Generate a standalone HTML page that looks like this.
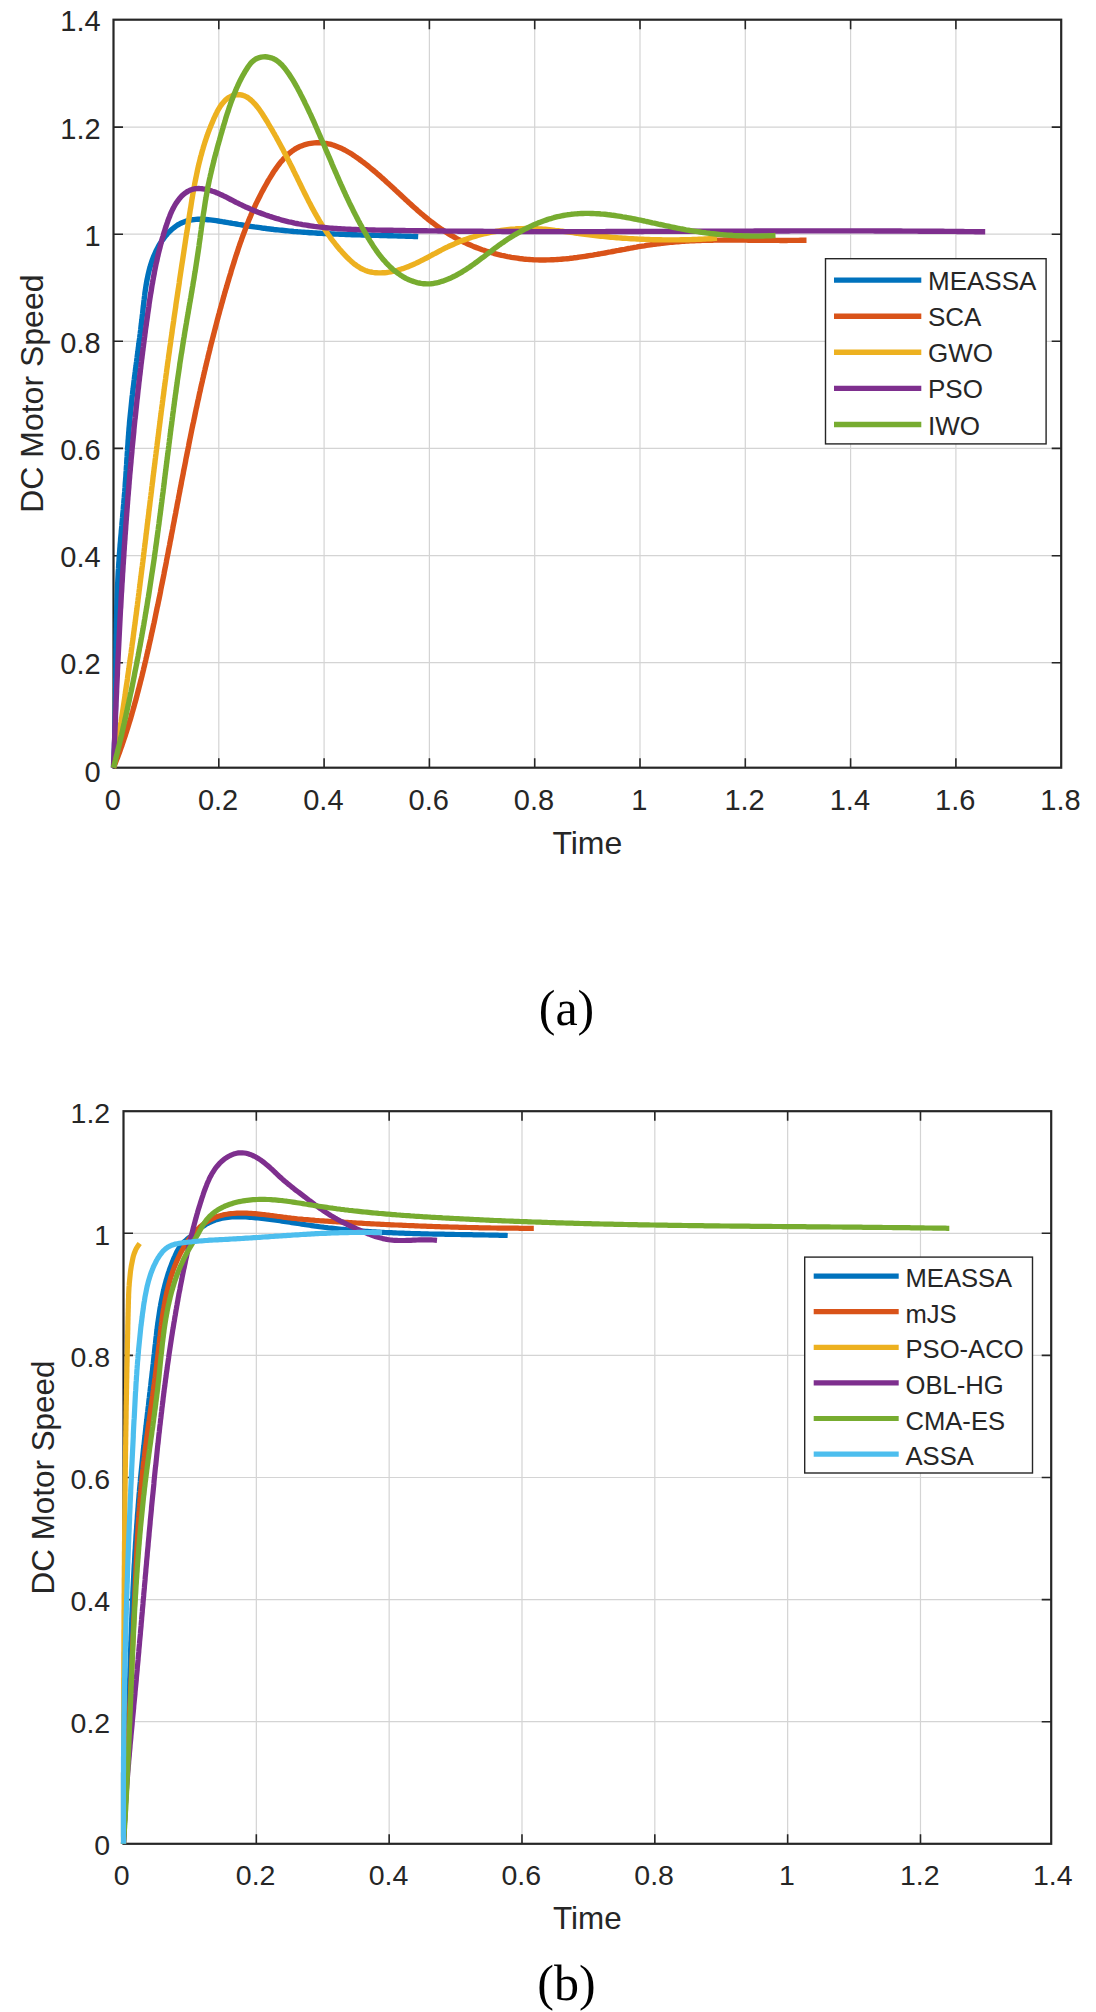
<!DOCTYPE html>
<html><head><meta charset="utf-8"><style>
html,body{margin:0;padding:0;background:#fff;width:1096px;height:2012px;overflow:hidden}
svg{display:block}
text{font-family:"Liberation Sans",sans-serif;fill:#262626}
.cap{font-family:"Liberation Serif",serif;fill:#000;font-size:50px}
</style></head><body>
<svg width="1096" height="2012" viewBox="0 0 1096 2012">
<rect width="1096" height="2012" fill="#fff"/>
<path d="M218.80 19.70V767.70M324.10 19.70V767.70M429.40 19.70V767.70M534.70 19.70V767.70M640.00 19.70V767.70M745.30 19.70V767.70M850.60 19.70V767.70M955.90 19.70V767.70M113.50 662.70H1061.20M113.50 555.70H1061.20M113.50 448.40H1061.20M113.50 341.30H1061.20M113.50 234.20H1061.20M113.50 127.10H1061.20" stroke="#d4d4d4" stroke-width="1.2" fill="none"/>
<path d="M218.80 767.70v-9.5M218.80 19.70v9.5M324.10 767.70v-9.5M324.10 19.70v9.5M429.40 767.70v-9.5M429.40 19.70v9.5M534.70 767.70v-9.5M534.70 19.70v9.5M640.00 767.70v-9.5M640.00 19.70v9.5M745.30 767.70v-9.5M745.30 19.70v9.5M850.60 767.70v-9.5M850.60 19.70v9.5M955.90 767.70v-9.5M955.90 19.70v9.5M113.50 662.70h9.5M1061.20 662.70h-9.5M113.50 555.70h9.5M1061.20 555.70h-9.5M113.50 448.40h9.5M1061.20 448.40h-9.5M113.50 341.30h9.5M1061.20 341.30h-9.5M113.50 234.20h9.5M1061.20 234.20h-9.5M113.50 127.10h9.5M1061.20 127.10h-9.5" stroke="#262626" stroke-width="1.6" fill="none"/>
<rect x="113.50" y="19.70" width="947.70" height="748.00" stroke="#262626" stroke-width="2.2" fill="none"/>
<path d="M113.5 767.7 113.6 765.7 113.7 763.7 113.8 761.7 113.9 759.7 114.0 757.7 114.1 755.7 114.2 753.7 114.2 751.7 114.3 749.7 114.4 747.7 114.5 745.7 114.5 743.7 114.6 741.7 114.7 739.7 114.7 737.7 114.8 735.7 114.8 733.7 114.9 731.7 114.9 729.7 115.0 727.7 115.0 725.7 115.1 723.7 115.1 721.7 115.2 719.7 115.2 717.6 115.3 715.6 115.3 713.6 115.3 711.6 115.4 709.6 115.4 707.6 115.4 705.6 115.5 703.6 115.5 701.6 115.5 699.6 115.5 697.6 115.6 695.6 115.6 693.5 115.6 691.5 115.6 689.5 115.7 687.5 115.7 685.5 115.7 683.5 115.7 681.5 115.7 679.5 115.8 677.5 115.8 675.4 115.8 673.4 115.8 671.4 115.8 669.4 115.9 667.4 115.9 665.4 115.9 663.4 115.9 661.4 115.9 659.4 116.0 657.3 116.0 655.3 116.0 653.3 116.0 651.3 116.0 649.3 116.1 647.3 116.1 645.3 116.1 643.3 116.1 641.3 116.2 639.2 116.2 637.2 116.2 635.2 116.3 633.2 116.3 631.2 116.3 629.2 116.4 627.2 116.4 625.2 116.4 623.2 116.5 621.2 116.5 619.2 116.6 617.1 116.6 615.1 116.7 613.1 116.7 611.1 116.8 609.1 116.8 607.1 116.9 605.1 117.0 603.1 117.0 601.1 117.1 599.1 117.2 597.1 117.2 595.1 117.3 593.1 117.4 591.1 117.5 589.1 117.5 587.1 117.6 585.1 117.7 583.1 117.8 581.1 117.9 579.0 118.0 577.0 118.1 575.0 118.2 573.0 118.3 571.0 118.5 569.0 118.6 567.1 118.7 565.1 118.8 563.1 119.0 561.1 119.1 559.1 119.2 557.1 119.4 555.1 119.5 553.1 119.7 551.1 119.8 549.1 120.0 547.1 120.1 545.1 120.3 543.1 120.5 541.1 120.6 539.1 120.8 537.1 121.0 535.1 121.2 533.1 121.3 531.1 121.5 529.2 121.7 527.2 121.9 525.2 122.0 523.2 122.2 521.2 122.4 519.2 122.6 517.2 122.7 515.2 122.9 513.2 123.1 511.2 123.3 509.2 123.4 507.2 123.6 505.2 123.8 503.2 123.9 501.2 124.1 499.2 124.3 497.2 124.4 495.2 124.6 493.2 124.8 491.2 124.9 489.2 125.1 487.2 125.2 485.1 125.3 483.1 125.5 481.1 125.6 479.1 125.8 477.1 125.9 475.1 126.0 473.1 126.2 471.0 126.3 469.0 126.4 467.0 126.6 465.0 126.7 463.0 126.8 461.0 126.9 458.9 127.1 456.9 127.2 454.9 127.3 452.9 127.5 450.9 127.6 448.9 127.7 446.9 127.9 444.8 128.0 442.8 128.1 440.8 128.3 438.8 128.4 436.8 128.6 434.8 128.7 432.8 128.9 430.8 129.0 428.8 129.2 426.8 129.4 424.8 129.5 422.8 129.7 420.8 129.9 418.8 130.1 416.8 130.3 414.8 130.5 412.9 130.7 410.9 130.9 408.9 131.1 406.9 131.3 404.9 131.5 403.0 131.7 401.0 131.9 399.0 132.1 397.0 132.4 395.1 132.6 393.1 132.8 391.1 133.1 389.2 133.3 387.2 133.6 385.2 133.8 383.2 134.0 381.3 134.3 379.3 134.5 377.3 134.8 375.4 135.0 373.4 135.3 371.4 135.5 369.5 135.8 367.5 136.1 365.5 136.3 363.5 136.6 361.6 136.8 359.6 137.1 357.6 137.3 355.6 137.6 353.7 137.9 351.7 138.1 349.7 138.4 347.7 138.6 345.7 138.9 343.7 139.1 341.8 139.4 339.8 139.7 337.8 139.9 335.8 140.2 333.8 140.4 331.8 140.7 329.8 140.9 327.8 141.1 325.8 141.4 323.7 141.6 321.7 141.9 319.7 142.1 317.7 142.3 315.6 142.6 313.6 142.8 311.6 143.0 309.5 143.2 307.5 143.5 305.5 143.7 303.4 143.9 301.4 144.2 299.3 144.4 297.3 144.7 295.3 144.9 293.2 145.2 291.2 145.5 289.2 145.8 287.2 146.1 285.1 146.5 283.1 146.8 281.1 147.2 279.1 147.6 277.2 148.0 275.2 148.5 273.2 148.9 271.3 149.4 269.3 150.0 267.4 150.5 265.5 151.1 263.6 151.7 261.7 152.4 259.8 153.1 257.9 153.8 256.1 154.6 254.3 155.4 252.5 156.2 250.7 157.1 248.9 158.0 247.2 159.0 245.4 160.0 243.7 161.1 242.1 162.2 240.4 163.4 238.8 164.6 237.2 165.8 235.6 167.2 234.1 168.5 232.6 169.9 231.2 171.4 229.8 172.9 228.5 174.4 227.3 176.0 226.1 177.6 225.0 179.3 224.1 181.0 223.2 182.7 222.4 184.5 221.7 186.3 221.1 188.2 220.6 190.1 220.2 192.0 219.8 194.0 219.6 195.9 219.4 197.9 219.3 199.9 219.3 201.9 219.3 204.0 219.4 206.0 219.5 208.0 219.7 210.1 219.9 212.1 220.1 214.2 220.4 216.2 220.7 218.2 221.0 220.3 221.3 222.3 221.7 224.3 222.0 226.3 222.3 228.3 222.7 230.4 223.0 232.4 223.4 234.4 223.7 236.3 224.0 238.3 224.4 240.3 224.7 242.3 225.0 244.3 225.3 246.3 225.6 248.2 226.0 250.2 226.3 252.2 226.6 254.2 226.9 256.1 227.1 258.1 227.4 260.1 227.7 262.1 228.0 264.0 228.2 266.0 228.5 268.0 228.8 270.0 229.0 271.9 229.2 273.9 229.5 275.9 229.7 277.9 229.9 279.9 230.1 281.9 230.3 283.9 230.5 285.9 230.7 287.9 230.9 289.8 231.1 291.8 231.3 293.8 231.5 295.8 231.6 297.8 231.8 299.8 231.9 301.8 232.1 303.8 232.2 305.8 232.4 307.8 232.5 309.8 232.7 311.8 232.8 313.8 232.9 315.8 233.0 317.9 233.2 319.9 233.3 321.9 233.4 323.9 233.5 325.9 233.6 327.9 233.7 329.9 233.8 331.9 233.9 333.9 234.0 335.9 234.1 337.9 234.1 340.0 234.2 342.0 234.3 344.0 234.4 346.0 234.5 348.0 234.5 350.0 234.6 352.0 234.7 354.0 234.7 356.0 234.8 358.1 234.9 360.1 234.9 362.1 235.0 364.1 235.0 366.1 235.1 368.1 235.2 370.1 235.2 372.1 235.3 374.1 235.3 376.2 235.4 378.2 235.4 380.2 235.5 382.2 235.5 384.2 235.6 386.2 235.6 388.2 235.7 390.2 235.8 392.2 235.8 394.2 235.9 396.2 235.9 398.2 236.0 400.2 236.0 402.2 236.1 404.2 236.1 406.2 236.2 408.2 236.3 410.2 236.3 412.2 236.4 414.2 236.5 416.2 236.5 418.2 236.6" stroke="#0072BD" stroke-width="5.4" fill="none" stroke-linejoin="round" stroke-linecap="butt"/>
<path d="M113.5 767.7 114.2 765.8 115.0 764.0 115.7 762.1 116.4 760.2 117.2 758.4 117.9 756.5 118.6 754.6 119.3 752.7 120.0 750.8 120.6 749.0 121.3 747.1 122.0 745.2 122.6 743.3 123.3 741.4 123.9 739.5 124.5 737.6 125.2 735.7 125.8 733.8 126.4 731.9 127.0 730.0 127.6 728.1 128.2 726.2 128.8 724.2 129.4 722.3 130.0 720.4 130.6 718.5 131.1 716.6 131.7 714.6 132.2 712.7 132.8 710.8 133.3 708.9 133.9 706.9 134.4 705.0 134.9 703.1 135.5 701.1 136.0 699.2 136.5 697.3 137.0 695.3 137.5 693.4 138.0 691.5 138.5 689.5 139.0 687.6 139.5 685.6 140.0 683.7 140.5 681.7 141.0 679.8 141.5 677.9 142.0 675.9 142.4 674.0 142.9 672.0 143.4 670.1 143.8 668.1 144.3 666.2 144.8 664.2 145.2 662.3 145.7 660.3 146.1 658.4 146.6 656.4 147.0 654.4 147.5 652.5 147.9 650.5 148.4 648.6 148.8 646.6 149.2 644.7 149.7 642.7 150.1 640.8 150.6 638.8 151.0 636.8 151.4 634.9 151.8 632.9 152.3 631.0 152.7 629.0 153.1 627.1 153.5 625.1 154.0 623.1 154.4 621.2 154.8 619.2 155.2 617.3 155.6 615.3 156.0 613.3 156.4 611.4 156.8 609.4 157.2 607.4 157.7 605.5 158.1 603.5 158.5 601.5 158.9 599.6 159.3 597.6 159.7 595.7 160.1 593.7 160.5 591.7 160.8 589.8 161.2 587.8 161.6 585.8 162.0 583.9 162.4 581.9 162.8 579.9 163.2 578.0 163.6 576.0 164.0 574.0 164.3 572.1 164.7 570.1 165.1 568.1 165.5 566.2 165.9 564.2 166.3 562.2 166.6 560.2 167.0 558.3 167.4 556.3 167.8 554.3 168.2 552.4 168.5 550.4 168.9 548.4 169.3 546.5 169.7 544.5 170.0 542.5 170.4 540.6 170.8 538.6 171.2 536.6 171.5 534.6 171.9 532.7 172.3 530.7 172.7 528.7 173.0 526.8 173.4 524.8 173.8 522.8 174.2 520.9 174.5 518.9 174.9 516.9 175.3 514.9 175.7 513.0 176.0 511.0 176.4 509.0 176.8 507.1 177.1 505.1 177.5 503.1 177.9 501.1 178.3 499.2 178.6 497.2 179.0 495.2 179.4 493.3 179.8 491.3 180.1 489.3 180.5 487.4 180.9 485.4 181.3 483.4 181.6 481.4 182.0 479.5 182.4 477.5 182.8 475.5 183.2 473.6 183.5 471.6 183.9 469.6 184.3 467.7 184.7 465.7 185.1 463.7 185.5 461.8 185.8 459.8 186.2 457.8 186.6 455.9 187.0 453.9 187.4 451.9 187.8 450.0 188.2 448.0 188.6 446.0 188.9 444.1 189.3 442.1 189.7 440.1 190.1 438.2 190.5 436.2 190.9 434.2 191.3 432.3 191.7 430.3 192.1 428.3 192.5 426.4 192.9 424.4 193.4 422.4 193.8 420.5 194.2 418.5 194.6 416.6 195.0 414.6 195.4 412.6 195.8 410.7 196.2 408.7 196.7 406.8 197.1 404.8 197.5 402.8 197.9 400.9 198.4 398.9 198.8 397.0 199.2 395.0 199.6 393.0 200.1 391.1 200.5 389.1 200.9 387.2 201.4 385.2 201.8 383.3 202.3 381.3 202.7 379.3 203.2 377.4 203.6 375.4 204.1 373.5 204.5 371.5 205.0 369.6 205.4 367.6 205.9 365.7 206.4 363.7 206.8 361.8 207.3 359.8 207.8 357.9 208.2 355.9 208.7 354.0 209.2 352.0 209.7 350.1 210.1 348.1 210.6 346.2 211.1 344.2 211.6 342.3 212.1 340.4 212.6 338.4 213.1 336.5 213.6 334.5 214.1 332.6 214.6 330.6 215.1 328.7 215.6 326.8 216.1 324.8 216.6 322.9 217.1 320.9 217.6 319.0 218.1 317.1 218.6 315.1 219.2 313.2 219.7 311.2 220.2 309.3 220.8 307.4 221.3 305.4 221.8 303.5 222.4 301.6 222.9 299.6 223.4 297.7 224.0 295.8 224.5 293.8 225.1 291.9 225.6 290.0 226.2 288.1 226.8 286.1 227.3 284.2 227.9 282.3 228.5 280.4 229.0 278.4 229.6 276.5 230.2 274.6 230.8 272.7 231.3 270.7 231.9 268.8 232.5 266.9 233.1 265.0 233.7 263.1 234.3 261.1 234.9 259.2 235.5 257.3 236.1 255.4 236.8 253.5 237.4 251.6 238.0 249.7 238.6 247.8 239.3 245.9 239.9 244.0 240.6 242.1 241.3 240.2 241.9 238.4 242.6 236.5 243.3 234.6 244.0 232.7 244.7 230.9 245.4 229.0 246.1 227.2 246.8 225.3 247.5 223.5 248.3 221.6 249.0 219.8 249.8 217.9 250.6 216.1 251.3 214.3 252.1 212.5 252.9 210.6 253.7 208.8 254.6 207.0 255.4 205.2 256.2 203.4 257.1 201.6 258.0 199.8 258.9 198.0 259.8 196.2 260.7 194.4 261.6 192.6 262.5 190.9 263.5 189.1 264.5 187.3 265.5 185.5 266.5 183.7 267.5 181.9 268.5 180.1 269.6 178.4 270.7 176.6 271.8 174.8 272.9 173.0 274.0 171.3 275.2 169.6 276.4 167.9 277.6 166.2 278.9 164.5 280.1 162.9 281.4 161.3 282.8 159.8 284.1 158.3 285.5 156.8 286.9 155.4 288.4 154.1 289.9 152.8 291.4 151.6 293.0 150.5 294.6 149.4 296.2 148.4 297.9 147.5 299.6 146.6 301.4 145.9 303.2 145.2 305.0 144.6 306.9 144.1 308.8 143.7 310.7 143.4 312.6 143.1 314.5 142.9 316.5 142.8 318.4 142.8 320.4 142.8 322.3 142.9 324.2 143.2 326.2 143.4 328.1 143.8 330.0 144.2 331.9 144.7 333.8 145.3 335.6 146.0 337.5 146.7 339.3 147.4 341.1 148.2 342.9 149.1 344.7 150.0 346.5 151.0 348.2 152.0 350.0 153.0 351.7 154.1 353.4 155.2 355.1 156.4 356.8 157.6 358.5 158.7 360.2 160.0 361.8 161.2 363.5 162.4 365.1 163.7 366.7 164.9 368.3 166.2 369.9 167.5 371.5 168.8 373.1 170.1 374.6 171.4 376.2 172.7 377.7 174.1 379.3 175.4 380.8 176.7 382.3 178.1 383.8 179.4 385.3 180.8 386.8 182.2 388.3 183.5 389.8 184.9 391.3 186.3 392.8 187.6 394.3 189.0 395.7 190.4 397.2 191.8 398.7 193.1 400.2 194.5 401.6 195.9 403.1 197.2 404.6 198.6 406.0 200.0 407.5 201.3 409.0 202.7 410.5 204.0 411.9 205.4 413.4 206.7 414.9 208.0 416.4 209.3 417.9 210.7 419.4 212.0 420.9 213.3 422.4 214.5 423.9 215.8 425.5 217.1 427.0 218.3 428.5 219.6 430.1 220.8 431.6 222.0 433.2 223.2 434.8 224.4 436.4 225.6 438.0 226.8 439.6 227.9 441.2 229.0 442.9 230.1 444.5 231.2 446.2 232.3 447.8 233.4 449.5 234.4 451.2 235.4 453.0 236.4 454.7 237.4 456.4 238.4 458.2 239.3 460.0 240.2 461.8 241.1 463.6 242.0 465.4 242.9 467.2 243.7 469.0 244.5 470.9 245.3 472.7 246.1 474.6 246.9 476.5 247.6 478.3 248.3 480.2 249.0 482.1 249.7 484.0 250.3 486.0 251.0 487.9 251.6 489.8 252.2 491.8 252.7 493.7 253.3 495.6 253.8 497.6 254.3 499.6 254.8 501.5 255.3 503.5 255.7 505.5 256.2 507.5 256.6 509.4 256.9 511.4 257.3 513.4 257.6 515.4 257.9 517.4 258.2 519.4 258.5 521.4 258.7 523.4 259.0 525.4 259.2 527.4 259.4 529.4 259.5 531.4 259.6 533.4 259.8 535.4 259.9 537.4 259.9 539.4 260.0 541.4 260.0 543.3 260.0 545.3 260.0 547.3 259.9 549.3 259.9 551.3 259.8 553.3 259.7 555.3 259.6 557.3 259.5 559.3 259.4 561.2 259.2 563.2 259.0 565.2 258.9 567.2 258.7 569.2 258.5 571.2 258.2 573.1 258.0 575.1 257.7 577.1 257.5 579.1 257.2 581.1 256.9 583.0 256.6 585.0 256.3 587.0 256.0 589.0 255.7 591.0 255.4 592.9 255.1 594.9 254.7 596.9 254.4 598.9 254.0 600.8 253.7 602.8 253.3 604.8 253.0 606.8 252.6 608.8 252.2 610.7 251.9 612.7 251.5 614.7 251.1 616.7 250.7 618.6 250.4 620.6 250.0 622.6 249.6 624.6 249.3 626.6 248.9 628.5 248.5 630.5 248.2 632.5 247.8 634.5 247.4 636.5 247.1 638.4 246.7 640.4 246.4 642.4 246.1 644.4 245.8 646.4 245.4 648.4 245.1 650.3 244.8 652.3 244.5 654.3 244.2 656.3 244.0 658.3 243.7 660.3 243.5 662.3 243.2 664.3 243.0 666.3 242.8 668.3 242.6 670.2 242.4 672.2 242.2 674.2 242.0 676.2 241.8 678.2 241.7 680.2 241.5 682.2 241.4 684.2 241.2 686.2 241.1 688.2 241.0 690.2 240.9 692.2 240.8 694.2 240.7 696.2 240.6 698.2 240.5 700.2 240.5 702.2 240.4 704.2 240.3 706.2 240.3 708.2 240.2 710.2 240.2 712.2 240.2 714.2 240.1 716.3 240.1 718.3 240.1 720.3 240.1 722.3 240.1 724.3 240.0 726.3 240.0 728.3 240.0 730.3 240.0 732.3 240.0 734.3 240.1 736.3 240.1 738.3 240.1 740.3 240.1 742.3 240.1 744.3 240.1 746.4 240.1 748.4 240.2 750.4 240.2 752.4 240.2 754.4 240.2 756.4 240.2 758.4 240.3 760.4 240.3 762.4 240.3 764.4 240.3 766.4 240.4 768.4 240.4 770.4 240.4 772.4 240.4 774.5 240.4 776.5 240.4 778.5 240.4 780.5 240.5 782.5 240.5 784.5 240.5 786.5 240.5 788.5 240.4 790.5 240.4 792.5 240.4 794.5 240.4 796.5 240.4 798.5 240.4 800.5 240.3 802.5 240.3 804.5 240.2 806.5 240.2" stroke="#D95319" stroke-width="5.4" fill="none" stroke-linejoin="round" stroke-linecap="butt"/>
<path d="M113.5 767.7 113.8 765.7 114.2 763.7 114.5 761.8 114.8 759.8 115.2 757.8 115.5 755.8 115.8 753.9 116.2 751.9 116.5 749.9 116.8 747.9 117.2 746.0 117.5 744.0 117.8 742.0 118.1 740.0 118.4 738.0 118.8 736.1 119.1 734.1 119.4 732.1 119.7 730.1 120.0 728.2 120.3 726.2 120.6 724.2 121.0 722.2 121.3 720.2 121.6 718.3 121.9 716.3 122.2 714.3 122.5 712.3 122.8 710.3 123.1 708.3 123.4 706.4 123.7 704.4 124.0 702.4 124.3 700.4 124.6 698.4 124.9 696.5 125.2 694.5 125.4 692.5 125.7 690.5 126.0 688.5 126.3 686.5 126.6 684.5 126.9 682.6 127.2 680.6 127.5 678.6 127.7 676.6 128.0 674.6 128.3 672.6 128.6 670.7 128.9 668.7 129.1 666.7 129.4 664.7 129.7 662.7 130.0 660.7 130.2 658.7 130.5 656.8 130.8 654.8 131.1 652.8 131.3 650.8 131.6 648.8 131.9 646.8 132.1 644.8 132.4 642.8 132.7 640.9 133.0 638.9 133.2 636.9 133.5 634.9 133.7 632.9 134.0 630.9 134.3 628.9 134.5 626.9 134.8 625.0 135.1 623.0 135.3 621.0 135.6 619.0 135.8 617.0 136.1 615.0 136.4 613.0 136.6 611.0 136.9 609.0 137.1 607.1 137.4 605.1 137.6 603.1 137.9 601.1 138.1 599.1 138.4 597.1 138.6 595.1 138.9 593.1 139.1 591.1 139.4 589.1 139.6 587.2 139.9 585.2 140.1 583.2 140.4 581.2 140.6 579.2 140.9 577.2 141.1 575.2 141.4 573.2 141.6 571.2 141.9 569.2 142.1 567.3 142.4 565.3 142.6 563.3 142.9 561.3 143.1 559.3 143.4 557.3 143.6 555.3 143.8 553.3 144.1 551.3 144.3 549.3 144.6 547.3 144.8 545.4 145.1 543.4 145.3 541.4 145.6 539.4 145.8 537.4 146.0 535.4 146.3 533.4 146.5 531.4 146.8 529.4 147.0 527.4 147.2 525.4 147.5 523.5 147.7 521.5 148.0 519.5 148.2 517.5 148.5 515.5 148.7 513.5 148.9 511.5 149.2 509.5 149.4 507.5 149.7 505.5 149.9 503.5 150.1 501.6 150.4 499.6 150.6 497.6 150.9 495.6 151.1 493.6 151.4 491.6 151.6 489.6 151.8 487.6 152.1 485.6 152.3 483.6 152.6 481.7 152.8 479.7 153.0 477.7 153.3 475.7 153.5 473.7 153.8 471.7 154.0 469.7 154.3 467.7 154.5 465.7 154.8 463.7 155.0 461.8 155.2 459.8 155.5 457.8 155.7 455.8 156.0 453.8 156.2 451.8 156.5 449.8 156.7 447.8 157.0 445.8 157.2 443.9 157.5 441.9 157.7 439.9 158.0 437.9 158.2 435.9 158.5 433.9 158.7 431.9 159.0 429.9 159.2 427.9 159.5 426.0 159.7 424.0 160.0 422.0 160.2 420.0 160.5 418.0 160.7 416.0 161.0 414.0 161.2 412.0 161.5 410.1 161.7 408.1 162.0 406.1 162.3 404.1 162.5 402.1 162.8 400.1 163.0 398.1 163.3 396.2 163.6 394.2 163.8 392.2 164.1 390.2 164.3 388.2 164.6 386.2 164.9 384.2 165.1 382.3 165.4 380.3 165.7 378.3 165.9 376.3 166.2 374.3 166.5 372.3 166.7 370.3 167.0 368.4 167.3 366.4 167.5 364.4 167.8 362.4 168.1 360.4 168.4 358.4 168.6 356.5 168.9 354.5 169.2 352.5 169.5 350.5 169.7 348.5 170.0 346.5 170.3 344.6 170.6 342.6 170.8 340.6 171.1 338.6 171.4 336.6 171.7 334.6 172.0 332.7 172.2 330.7 172.5 328.7 172.8 326.7 173.1 324.7 173.4 322.7 173.7 320.8 173.9 318.8 174.2 316.8 174.5 314.8 174.8 312.8 175.1 310.9 175.4 308.9 175.7 306.9 175.9 304.9 176.2 302.9 176.5 300.9 176.8 299.0 177.1 297.0 177.4 295.0 177.7 293.0 178.0 291.0 178.3 289.0 178.6 287.1 178.9 285.1 179.2 283.1 179.4 281.1 179.7 279.1 180.0 277.1 180.3 275.1 180.6 273.2 180.9 271.2 181.2 269.2 181.5 267.2 181.8 265.2 182.1 263.2 182.4 261.3 182.7 259.3 183.0 257.3 183.3 255.3 183.6 253.3 183.9 251.3 184.2 249.3 184.5 247.3 184.8 245.4 185.1 243.4 185.4 241.4 185.7 239.4 186.0 237.4 186.3 235.4 186.6 233.4 187.0 231.4 187.3 229.5 187.6 227.5 187.9 225.5 188.2 223.5 188.5 221.5 188.8 219.5 189.1 217.5 189.4 215.5 189.7 213.5 190.0 211.6 190.3 209.6 190.7 207.6 191.0 205.6 191.3 203.6 191.6 201.6 191.9 199.6 192.3 197.6 192.6 195.7 192.9 193.7 193.3 191.7 193.6 189.7 194.0 187.7 194.4 185.8 194.7 183.8 195.1 181.8 195.5 179.9 195.9 177.9 196.3 176.0 196.7 174.0 197.1 172.1 197.5 170.1 197.9 168.2 198.4 166.2 198.8 164.3 199.3 162.4 199.8 160.4 200.3 158.5 200.7 156.6 201.3 154.7 201.8 152.8 202.3 150.9 202.9 149.0 203.4 147.1 204.0 145.2 204.6 143.3 205.2 141.4 205.8 139.6 206.4 137.7 207.1 135.8 207.7 134.0 208.4 132.1 209.1 130.2 209.9 128.3 210.6 126.4 211.4 124.5 212.2 122.6 213.0 120.7 213.8 118.7 214.7 116.8 215.6 114.8 216.6 112.9 217.5 111.0 218.6 109.1 219.7 107.3 220.8 105.6 222.0 103.9 223.3 102.4 224.6 100.9 226.0 99.6 227.5 98.4 229.1 97.4 230.7 96.5 232.4 95.7 234.2 95.2 236.0 94.8 237.8 94.7 239.6 94.7 241.4 95.0 243.1 95.4 244.9 96.1 246.6 96.9 248.2 97.9 249.8 99.1 251.3 100.4 252.8 101.8 254.3 103.3 255.7 104.8 257.0 106.5 258.3 108.1 259.5 109.8 260.7 111.5 261.9 113.3 263.0 115.0 264.1 116.8 265.2 118.5 266.3 120.3 267.4 122.0 268.4 123.8 269.4 125.5 270.5 127.3 271.5 129.0 272.5 130.7 273.5 132.5 274.5 134.2 275.5 136.0 276.5 137.7 277.4 139.4 278.4 141.2 279.3 142.9 280.3 144.7 281.2 146.4 282.1 148.2 283.1 149.9 284.0 151.7 284.9 153.4 285.8 155.2 286.7 156.9 287.6 158.7 288.5 160.4 289.4 162.2 290.3 164.0 291.2 165.7 292.1 167.5 293.0 169.3 293.8 171.1 294.7 172.9 295.6 174.7 296.5 176.4 297.3 178.2 298.2 180.1 299.1 181.9 300.0 183.7 300.9 185.5 301.7 187.3 302.6 189.1 303.5 190.9 304.4 192.7 305.3 194.5 306.2 196.3 307.1 198.1 308.0 199.9 308.9 201.7 309.9 203.5 310.8 205.3 311.7 207.1 312.7 208.9 313.6 210.6 314.6 212.4 315.6 214.1 316.6 215.9 317.6 217.6 318.6 219.4 319.6 221.1 320.6 222.8 321.7 224.5 322.7 226.2 323.8 227.9 324.9 229.6 326.0 231.2 327.1 232.9 328.2 234.5 329.4 236.1 330.5 237.8 331.7 239.4 332.9 241.0 334.2 242.5 335.4 244.1 336.7 245.7 337.9 247.2 339.2 248.8 340.6 250.3 341.9 251.8 343.3 253.3 344.7 254.8 346.1 256.3 347.5 257.8 349.0 259.2 350.5 260.6 352.0 262.0 353.5 263.3 355.1 264.5 356.7 265.7 358.4 266.8 360.0 267.8 361.7 268.8 363.5 269.6 365.3 270.4 367.1 271.1 369.0 271.6 370.8 272.0 372.8 272.4 374.7 272.7 376.7 272.8 378.7 272.9 380.7 272.9 382.7 272.8 384.7 272.7 386.7 272.5 388.7 272.2 390.8 271.8 392.8 271.4 394.8 271.0 396.8 270.5 398.8 269.9 400.7 269.3 402.7 268.7 404.6 268.0 406.5 267.3 408.4 266.6 410.2 265.8 412.1 265.0 413.9 264.2 415.7 263.4 417.6 262.5 419.4 261.6 421.2 260.7 422.9 259.8 424.7 258.9 426.5 258.0 428.2 257.1 430.0 256.1 431.8 255.2 433.5 254.2 435.3 253.3 437.1 252.3 438.8 251.4 440.6 250.5 442.4 249.5 444.1 248.6 445.9 247.7 447.7 246.9 449.5 246.0 451.3 245.2 453.2 244.4 455.0 243.6 456.8 242.8 458.7 242.0 460.6 241.3 462.4 240.6 464.3 239.9 466.2 239.2 468.1 238.5 470.0 237.9 471.9 237.3 473.8 236.7 475.7 236.1 477.7 235.5 479.6 235.0 481.5 234.5 483.5 234.0 485.4 233.5 487.4 233.1 489.4 232.6 491.3 232.2 493.3 231.8 495.3 231.5 497.2 231.1 499.2 230.8 501.2 230.5 503.2 230.2 505.2 229.9 507.2 229.7 509.2 229.5 511.2 229.3 513.2 229.1 515.2 229.0 517.2 228.8 519.2 228.7 521.2 228.6 523.2 228.6 525.2 228.5 527.2 228.5 529.2 228.5 531.2 228.6 533.2 228.6 535.2 228.7 537.2 228.8 539.2 228.9 541.2 229.0 543.2 229.2 545.2 229.3 547.2 229.5 549.2 229.7 551.2 229.9 553.1 230.1 555.1 230.4 557.1 230.6 559.1 230.8 561.1 231.1 563.1 231.3 565.1 231.6 567.1 231.9 569.1 232.1 571.1 232.4 573.1 232.7 575.1 233.0 577.0 233.2 579.0 233.5 581.0 233.8 583.0 234.1 585.0 234.3 587.0 234.6 589.0 234.8 591.0 235.1 593.0 235.3 595.0 235.5 597.0 235.8 598.9 236.0 600.9 236.2 602.9 236.4 604.9 236.6 606.9 236.8 608.9 237.0 610.9 237.2 612.9 237.4 614.9 237.5 616.9 237.7 618.9 237.9 620.9 238.0 622.9 238.2 624.9 238.3 626.9 238.4 628.9 238.6 630.9 238.7 632.9 238.8 634.9 238.9 636.9 239.0 638.9 239.1 640.9 239.2 642.9 239.3 644.9 239.4 646.9 239.5 648.9 239.5 650.9 239.6 652.9 239.7 654.9 239.7 656.9 239.8 658.9 239.8 660.9 239.8 662.9 239.9 664.9 239.9 666.9 239.9 668.9 239.9 670.9 239.9 672.9 239.9 674.9 239.9 676.9 239.9 678.9 239.9 680.9 239.8 682.9 239.8 684.9 239.8 686.9 239.7 688.9 239.7 690.9 239.6 692.9 239.5 694.9 239.5 696.9 239.4 698.9 239.3 700.9 239.2 702.9 239.1 705.0 239.0 707.0 238.9 709.0 238.8 711.0 238.7 713.0 238.6 715.0 238.4 717.0 238.3" stroke="#EDB120" stroke-width="5.4" fill="none" stroke-linejoin="round" stroke-linecap="butt"/>
<path d="M113.5 767.7 113.6 765.7 113.6 763.7 113.7 761.7 113.8 759.7 113.9 757.7 114.0 755.7 114.0 753.7 114.1 751.7 114.2 749.7 114.3 747.7 114.3 745.7 114.4 743.7 114.5 741.7 114.6 739.7 114.7 737.7 114.7 735.7 114.8 733.7 114.9 731.7 115.0 729.7 115.0 727.7 115.1 725.7 115.2 723.7 115.3 721.7 115.4 719.7 115.5 717.7 115.5 715.7 115.6 713.7 115.7 711.7 115.8 709.7 115.9 707.7 116.0 705.7 116.0 703.7 116.1 701.7 116.2 699.7 116.3 697.7 116.4 695.7 116.5 693.7 116.6 691.7 116.6 689.7 116.7 687.7 116.8 685.7 116.9 683.7 117.0 681.7 117.1 679.7 117.2 677.7 117.3 675.7 117.4 673.7 117.4 671.7 117.5 669.7 117.6 667.7 117.7 665.7 117.8 663.7 117.9 661.7 118.0 659.7 118.1 657.7 118.2 655.7 118.3 653.7 118.4 651.7 118.5 649.7 118.6 647.7 118.7 645.7 118.8 643.7 118.9 641.7 119.0 639.7 119.1 637.7 119.2 635.7 119.3 633.7 119.4 631.7 119.5 629.7 119.6 627.7 119.7 625.7 119.8 623.7 119.9 621.7 120.0 619.7 120.1 617.7 120.2 615.7 120.3 613.7 120.4 611.7 120.5 609.6 120.7 607.6 120.8 605.6 120.9 603.6 121.0 601.6 121.1 599.6 121.2 597.6 121.3 595.6 121.4 593.6 121.6 591.6 121.7 589.6 121.8 587.6 121.9 585.6 122.0 583.6 122.2 581.6 122.3 579.6 122.4 577.6 122.5 575.6 122.6 573.6 122.8 571.6 122.9 569.6 123.0 567.6 123.1 565.6 123.3 563.6 123.4 561.6 123.5 559.6 123.7 557.6 123.8 555.6 123.9 553.6 124.0 551.6 124.2 549.6 124.3 547.6 124.4 545.6 124.6 543.6 124.7 541.6 124.9 539.6 125.0 537.6 125.1 535.6 125.3 533.6 125.4 531.6 125.6 529.6 125.7 527.6 125.8 525.6 126.0 523.6 126.1 521.6 126.3 519.6 126.4 517.6 126.6 515.6 126.7 513.6 126.9 511.6 127.0 509.6 127.2 507.6 127.3 505.6 127.5 503.6 127.6 501.6 127.8 499.6 127.9 497.6 128.1 495.6 128.3 493.6 128.4 491.6 128.6 489.6 128.8 487.6 128.9 485.6 129.1 483.6 129.2 481.6 129.4 479.6 129.6 477.6 129.7 475.6 129.9 473.6 130.1 471.6 130.3 469.7 130.4 467.7 130.6 465.7 130.8 463.7 131.0 461.7 131.1 459.7 131.3 457.7 131.5 455.7 131.7 453.7 131.9 451.7 132.0 449.7 132.2 447.7 132.4 445.7 132.6 443.7 132.8 441.7 133.0 439.7 133.2 437.7 133.4 435.7 133.6 433.7 133.8 431.8 133.9 429.8 134.1 427.8 134.3 425.8 134.5 423.8 134.7 421.8 134.9 419.8 135.2 417.8 135.4 415.8 135.6 413.8 135.8 411.8 136.0 409.8 136.2 407.9 136.4 405.9 136.6 403.9 136.8 401.9 137.0 399.9 137.3 397.9 137.5 395.9 137.7 393.9 137.9 391.9 138.1 389.9 138.4 388.0 138.6 386.0 138.8 384.0 139.0 382.0 139.3 380.0 139.5 378.0 139.7 376.0 140.0 374.0 140.2 372.1 140.4 370.1 140.7 368.1 140.9 366.1 141.1 364.1 141.4 362.1 141.6 360.1 141.9 358.2 142.1 356.2 142.4 354.2 142.6 352.2 142.9 350.2 143.1 348.2 143.4 346.3 143.6 344.3 143.9 342.3 144.1 340.3 144.4 338.3 144.7 336.3 144.9 334.4 145.2 332.4 145.4 330.4 145.7 328.4 146.0 326.4 146.3 324.5 146.5 322.5 146.8 320.5 147.1 318.5 147.4 316.5 147.6 314.6 147.9 312.6 148.2 310.6 148.5 308.6 148.8 306.6 149.0 304.7 149.3 302.7 149.6 300.7 149.9 298.7 150.2 296.8 150.5 294.8 150.9 292.8 151.2 290.8 151.5 288.9 151.8 286.9 152.1 284.9 152.5 283.0 152.8 281.0 153.2 279.0 153.5 277.1 153.9 275.1 154.3 273.1 154.6 271.2 155.0 269.2 155.4 267.2 155.8 265.3 156.2 263.3 156.7 261.4 157.1 259.4 157.5 257.4 158.0 255.5 158.4 253.5 158.9 251.6 159.4 249.6 159.9 247.7 160.4 245.7 160.9 243.8 161.4 241.8 161.9 239.9 162.5 237.9 163.1 236.0 163.6 234.1 164.2 232.1 164.8 230.2 165.4 228.2 166.1 226.3 166.7 224.4 167.4 222.4 168.0 220.5 168.7 218.6 169.5 216.7 170.2 214.8 171.0 212.9 171.8 211.1 172.7 209.3 173.6 207.5 174.6 205.7 175.6 204.0 176.7 202.3 177.9 200.7 179.1 199.1 180.4 197.6 181.7 196.1 183.1 194.8 184.6 193.5 186.2 192.4 187.8 191.4 189.4 190.5 191.2 189.8 193.0 189.2 194.8 188.8 196.7 188.6 198.6 188.5 200.5 188.6 202.5 188.8 204.5 189.1 206.5 189.5 208.5 190.0 210.4 190.5 212.4 191.2 214.3 191.8 216.2 192.6 218.1 193.3 219.9 194.2 221.8 195.0 223.6 195.9 225.4 196.7 227.2 197.6 229.0 198.6 230.7 199.5 232.5 200.4 234.3 201.3 236.1 202.3 237.9 203.2 239.7 204.1 241.5 204.9 243.3 205.8 245.1 206.7 247.0 207.5 248.8 208.3 250.6 209.1 252.5 209.9 254.4 210.7 256.2 211.4 258.1 212.2 260.0 212.9 261.9 213.6 263.8 214.3 265.7 215.0 267.6 215.6 269.5 216.3 271.4 216.9 273.3 217.5 275.2 218.1 277.1 218.7 279.1 219.2 281.0 219.8 282.9 220.3 284.9 220.8 286.8 221.3 288.8 221.8 290.7 222.2 292.7 222.6 294.6 223.1 296.6 223.5 298.6 223.9 300.5 224.2 302.5 224.6 304.4 224.9 306.4 225.2 308.4 225.5 310.4 225.8 312.3 226.1 314.3 226.4 316.3 226.6 318.3 226.9 320.2 227.1 322.2 227.3 324.2 227.5 326.2 227.7 328.2 227.9 330.2 228.1 332.2 228.2 334.2 228.4 336.1 228.5 338.1 228.7 340.1 228.8 342.1 228.9 344.1 229.0 346.1 229.1 348.1 229.2 350.1 229.3 352.1 229.4 354.1 229.5 356.1 229.5 358.1 229.6 360.1 229.7 362.1 229.7 364.1 229.8 366.1 229.8 368.2 229.9 370.2 229.9 372.2 230.0 374.2 230.0 376.2 230.1 378.2 230.1 380.2 230.1 382.2 230.2 384.2 230.2 386.2 230.2 388.2 230.3 390.2 230.3 392.2 230.3 394.2 230.4 396.2 230.4 398.2 230.4 400.2 230.5 402.2 230.5 404.2 230.5 406.3 230.6 408.3 230.6 410.3 230.6 412.3 230.6 414.3 230.7 416.3 230.7 418.3 230.7 420.3 230.8 422.3 230.8 424.3 230.8 426.3 230.8 428.3 230.9 430.3 230.9 432.3 230.9 434.3 230.9 436.3 230.9 438.3 231.0 440.3 231.0 442.3 231.0 444.3 231.0 446.3 231.1 448.4 231.1 450.4 231.1 452.4 231.1 454.4 231.1 456.4 231.1 458.4 231.2 460.4 231.2 462.4 231.2 464.4 231.2 466.4 231.2 468.4 231.2 470.4 231.3 472.4 231.3 474.4 231.3 476.4 231.3 478.4 231.3 480.4 231.3 482.4 231.3 484.4 231.4 486.4 231.4 488.4 231.4 490.4 231.4 492.4 231.4 494.4 231.4 496.4 231.4 498.4 231.4 500.5 231.4 502.5 231.5 504.5 231.5 506.5 231.5 508.5 231.5 510.5 231.5 512.5 231.5 514.5 231.5 516.5 231.5 518.5 231.5 520.5 231.5 522.5 231.5 524.5 231.5 526.5 231.5 528.5 231.5 530.5 231.5 532.5 231.6 534.5 231.6 536.5 231.6 538.5 231.6 540.5 231.6 542.5 231.6 544.5 231.6 546.5 231.6 548.5 231.6 550.5 231.6 552.5 231.6 554.5 231.6 556.5 231.6 558.5 231.6 560.5 231.6 562.6 231.6 564.6 231.6 566.6 231.6 568.6 231.6 570.6 231.6 572.6 231.6 574.6 231.6 576.6 231.6 578.6 231.6 580.6 231.6 582.6 231.6 584.6 231.6 586.6 231.6 588.6 231.6 590.6 231.6 592.6 231.6 594.6 231.6 596.6 231.6 598.6 231.6 600.6 231.6 602.6 231.6 604.6 231.6 606.6 231.5 608.6 231.5 610.6 231.5 612.6 231.5 614.6 231.5 616.6 231.5 618.6 231.5 620.6 231.5 622.6 231.5 624.6 231.5 626.6 231.5 628.6 231.5 630.6 231.5 632.6 231.5 634.6 231.5 636.6 231.5 638.6 231.5 640.7 231.5 642.7 231.5 644.7 231.4 646.7 231.4 648.7 231.4 650.7 231.4 652.7 231.4 654.7 231.4 656.7 231.4 658.7 231.4 660.7 231.4 662.7 231.4 664.7 231.4 666.7 231.4 668.7 231.4 670.7 231.4 672.7 231.3 674.7 231.3 676.7 231.3 678.7 231.3 680.7 231.3 682.7 231.3 684.7 231.3 686.7 231.3 688.7 231.3 690.7 231.3 692.7 231.3 694.7 231.3 696.7 231.3 698.7 231.3 700.7 231.2 702.7 231.2 704.7 231.2 706.7 231.2 708.7 231.2 710.7 231.2 712.7 231.2 714.7 231.2 716.7 231.2 718.7 231.2 720.7 231.2 722.7 231.2 724.7 231.2 726.8 231.1 728.8 231.1 730.8 231.1 732.8 231.1 734.8 231.1 736.8 231.1 738.8 231.1 740.8 231.1 742.8 231.1 744.8 231.1 746.8 231.1 748.8 231.1 750.8 231.1 752.8 231.1 754.8 231.0 756.8 231.0 758.8 231.0 760.8 231.0 762.8 231.0 764.8 231.0 766.8 231.0 768.8 231.0 770.8 231.0 772.8 231.0 774.8 231.0 776.8 231.0 778.8 231.0 780.8 231.0 782.8 231.0 784.8 231.0 786.8 231.0 788.8 231.0 790.8 230.9 792.8 230.9 794.8 230.9 796.8 230.9 798.8 230.9 800.8 230.9 802.8 230.9 804.8 230.9 806.9 230.9 808.9 230.9 810.9 230.9 812.9 230.9 814.9 230.9 816.9 230.9 818.9 230.9 820.9 230.9 822.9 230.9 824.9 230.9 826.9 230.9 828.9 230.9 830.9 230.9 832.9 230.9 834.9 230.9 836.9 230.9 838.9 230.9 840.9 230.9 842.9 230.9 844.9 230.9 846.9 230.9 848.9 230.9 850.9 230.9 852.9 230.9 854.9 230.9 856.9 230.9 858.9 230.9 860.9 230.9 862.9 230.9 864.9 230.9 866.9 230.9 868.9 230.9 871.0 230.9 873.0 230.9 875.0 231.0 877.0 231.0 879.0 231.0 881.0 231.0 883.0 231.0 885.0 231.0 887.0 231.0 889.0 231.0 891.0 231.0 893.0 231.0 895.0 231.0 897.0 231.0 899.0 231.0 901.0 231.0 903.0 231.1 905.0 231.1 907.0 231.1 909.0 231.1 911.0 231.1 913.0 231.1 915.0 231.1 917.0 231.1 919.0 231.2 921.0 231.2 923.1 231.2 925.1 231.2 927.1 231.2 929.1 231.2 931.1 231.2 933.1 231.2 935.1 231.3 937.1 231.3 939.1 231.3 941.1 231.3 943.1 231.3 945.1 231.4 947.1 231.4 949.1 231.4 951.1 231.4 953.1 231.4 955.1 231.4 957.1 231.5 959.1 231.5 961.1 231.5 963.1 231.5 965.1 231.6 967.2 231.6 969.2 231.6 971.2 231.6 973.2 231.6 975.2 231.7 977.2 231.7 979.2 231.7 981.2 231.7 983.2 231.8 985.2 231.8" stroke="#7E2F8E" stroke-width="5.4" fill="none" stroke-linejoin="round" stroke-linecap="butt"/>
<path d="M113.5 767.7 114.0 765.8 114.5 763.8 115.0 761.9 115.5 759.9 115.9 758.0 116.4 756.0 116.9 754.1 117.4 752.1 117.9 750.2 118.3 748.3 118.8 746.3 119.3 744.4 119.7 742.4 120.2 740.5 120.7 738.5 121.1 736.6 121.6 734.6 122.0 732.7 122.5 730.7 122.9 728.7 123.4 726.8 123.8 724.8 124.3 722.9 124.7 720.9 125.1 719.0 125.6 717.0 126.0 715.1 126.4 713.1 126.9 711.2 127.3 709.2 127.7 707.2 128.2 705.3 128.6 703.3 129.0 701.4 129.4 699.4 129.8 697.5 130.2 695.5 130.6 693.5 131.1 691.6 131.5 689.6 131.9 687.6 132.3 685.7 132.7 683.7 133.1 681.8 133.5 679.8 133.9 677.8 134.3 675.9 134.6 673.9 135.0 671.9 135.4 670.0 135.8 668.0 136.2 666.0 136.6 664.1 136.9 662.1 137.3 660.1 137.7 658.2 138.1 656.2 138.4 654.2 138.8 652.3 139.2 650.3 139.5 648.3 139.9 646.4 140.3 644.4 140.6 642.4 141.0 640.4 141.3 638.5 141.7 636.5 142.0 634.5 142.4 632.6 142.7 630.6 143.1 628.6 143.4 626.6 143.8 624.7 144.1 622.7 144.4 620.7 144.8 618.7 145.1 616.8 145.4 614.8 145.8 612.8 146.1 610.8 146.4 608.9 146.8 606.9 147.1 604.9 147.4 602.9 147.7 601.0 148.0 599.0 148.4 597.0 148.7 595.0 149.0 593.0 149.3 591.1 149.6 589.1 149.9 587.1 150.2 585.1 150.5 583.1 150.8 581.2 151.1 579.2 151.4 577.2 151.7 575.2 152.0 573.2 152.3 571.3 152.6 569.3 152.9 567.3 153.2 565.3 153.5 563.3 153.8 561.3 154.1 559.4 154.4 557.4 154.6 555.4 154.9 553.4 155.2 551.4 155.5 549.4 155.7 547.5 156.0 545.5 156.3 543.5 156.6 541.5 156.8 539.5 157.1 537.5 157.4 535.5 157.6 533.6 157.9 531.6 158.2 529.6 158.4 527.6 158.7 525.6 159.0 523.6 159.2 521.6 159.5 519.7 159.7 517.7 160.0 515.7 160.3 513.7 160.5 511.7 160.8 509.7 161.0 507.7 161.3 505.7 161.5 503.8 161.8 501.8 162.0 499.8 162.3 497.8 162.5 495.8 162.8 493.8 163.1 491.8 163.3 489.8 163.6 487.8 163.8 485.9 164.1 483.9 164.3 481.9 164.5 479.9 164.8 477.9 165.0 475.9 165.3 473.9 165.5 471.9 165.8 470.0 166.0 468.0 166.3 466.0 166.5 464.0 166.8 462.0 167.0 460.0 167.3 458.0 167.5 456.0 167.8 454.0 168.0 452.1 168.3 450.1 168.5 448.1 168.8 446.1 169.0 444.1 169.3 442.1 169.5 440.1 169.8 438.1 170.0 436.2 170.3 434.2 170.5 432.2 170.8 430.2 171.0 428.2 171.3 426.2 171.6 424.2 171.8 422.2 172.1 420.3 172.3 418.3 172.6 416.3 172.8 414.3 173.1 412.3 173.4 410.3 173.6 408.3 173.9 406.4 174.2 404.4 174.4 402.4 174.7 400.4 175.0 398.4 175.2 396.4 175.5 394.4 175.8 392.5 176.1 390.5 176.3 388.5 176.6 386.5 176.9 384.5 177.2 382.5 177.4 380.6 177.7 378.6 178.0 376.6 178.3 374.6 178.6 372.6 178.9 370.7 179.2 368.7 179.5 366.7 179.7 364.7 180.0 362.7 180.3 360.8 180.6 358.8 180.9 356.8 181.2 354.8 181.6 352.8 181.9 350.9 182.2 348.9 182.5 346.9 182.8 344.9 183.1 343.0 183.4 341.0 183.7 339.0 184.1 337.0 184.4 335.0 184.7 333.1 185.0 331.1 185.4 329.1 185.7 327.1 186.0 325.2 186.4 323.2 186.7 321.2 187.0 319.3 187.4 317.3 187.7 315.3 188.1 313.3 188.4 311.4 188.7 309.4 189.1 307.4 189.4 305.4 189.7 303.5 190.1 301.5 190.4 299.5 190.8 297.5 191.1 295.6 191.4 293.6 191.8 291.6 192.1 289.6 192.4 287.7 192.8 285.7 193.1 283.7 193.4 281.7 193.8 279.8 194.1 277.8 194.4 275.8 194.7 273.8 195.1 271.8 195.4 269.9 195.7 267.9 196.0 265.9 196.3 263.9 196.6 261.9 196.9 260.0 197.2 258.0 197.5 256.0 197.8 254.0 198.1 252.0 198.4 250.0 198.7 248.0 199.0 246.1 199.2 244.1 199.5 242.1 199.8 240.1 200.1 238.1 200.3 236.1 200.6 234.1 200.9 232.1 201.2 230.1 201.4 228.1 201.7 226.2 202.0 224.2 202.3 222.2 202.5 220.2 202.8 218.2 203.1 216.2 203.4 214.2 203.7 212.2 204.0 210.3 204.3 208.3 204.6 206.3 204.9 204.3 205.2 202.3 205.5 200.4 205.9 198.4 206.2 196.4 206.6 194.4 206.9 192.5 207.3 190.5 207.6 188.6 208.0 186.6 208.4 184.6 208.8 182.7 209.2 180.7 209.6 178.8 210.1 176.8 210.5 174.9 211.0 172.9 211.4 171.0 211.9 169.0 212.3 167.1 212.8 165.2 213.3 163.2 213.8 161.3 214.2 159.4 214.7 157.4 215.2 155.5 215.8 153.6 216.3 151.6 216.8 149.7 217.3 147.8 217.8 145.8 218.4 143.9 218.9 142.0 219.5 140.0 220.0 138.1 220.5 136.2 221.1 134.3 221.7 132.3 222.2 130.4 222.8 128.5 223.3 126.5 223.9 124.6 224.5 122.7 225.1 120.8 225.6 118.8 226.2 116.9 226.8 115.0 227.4 113.1 228.1 111.2 228.7 109.2 229.3 107.3 230.0 105.4 230.6 103.5 231.3 101.6 232.0 99.7 232.7 97.9 233.4 96.0 234.1 94.1 234.9 92.3 235.7 90.4 236.4 88.6 237.3 86.7 238.1 84.9 238.9 83.1 239.8 81.3 240.7 79.5 241.6 77.7 242.6 75.9 243.6 74.2 244.6 72.4 245.6 70.7 246.7 69.0 247.8 67.3 248.9 65.6 250.1 64.1 251.4 62.6 252.8 61.3 254.2 60.1 255.8 59.0 257.5 58.2 259.3 57.6 261.2 57.1 263.2 56.9 265.2 56.8 267.2 57.0 269.2 57.3 271.1 57.8 273.0 58.5 274.8 59.4 276.5 60.4 278.1 61.6 279.7 62.9 281.1 64.2 282.5 65.7 283.9 67.3 285.2 68.9 286.4 70.5 287.6 72.2 288.8 73.8 289.9 75.5 291.0 77.2 292.1 78.9 293.2 80.7 294.2 82.4 295.2 84.1 296.2 85.9 297.2 87.6 298.1 89.4 299.0 91.1 300.0 92.9 300.9 94.7 301.8 96.4 302.7 98.2 303.6 100.0 304.5 101.8 305.3 103.6 306.2 105.4 307.1 107.2 307.9 109.0 308.8 110.8 309.6 112.6 310.5 114.4 311.3 116.2 312.1 118.0 313.0 119.9 313.8 121.7 314.6 123.5 315.4 125.3 316.2 127.2 317.0 129.0 317.8 130.8 318.6 132.7 319.4 134.5 320.2 136.3 321.0 138.2 321.8 140.0 322.6 141.8 323.4 143.7 324.2 145.5 325.0 147.4 325.7 149.2 326.5 151.1 327.3 152.9 328.1 154.8 328.9 156.6 329.7 158.4 330.5 160.3 331.3 162.1 332.0 164.0 332.8 165.8 333.6 167.7 334.4 169.5 335.2 171.4 336.0 173.2 336.8 175.0 337.6 176.9 338.4 178.7 339.2 180.5 340.0 182.4 340.8 184.2 341.7 186.0 342.5 187.9 343.3 189.7 344.1 191.5 345.0 193.3 345.8 195.2 346.7 197.0 347.5 198.8 348.4 200.6 349.2 202.4 350.1 204.2 351.0 206.0 351.9 207.8 352.8 209.6 353.6 211.4 354.6 213.2 355.5 215.0 356.4 216.7 357.3 218.5 358.2 220.3 359.2 222.0 360.1 223.8 361.1 225.5 362.0 227.3 363.0 229.0 364.0 230.8 365.0 232.5 366.0 234.2 367.0 236.0 368.0 237.7 369.1 239.4 370.1 241.1 371.2 242.8 372.3 244.5 373.3 246.2 374.4 247.8 375.6 249.5 376.7 251.1 377.9 252.8 379.1 254.4 380.3 256.0 381.6 257.5 382.8 259.1 384.2 260.6 385.5 262.1 386.9 263.6 388.3 265.0 389.7 266.5 391.2 267.8 392.7 269.2 394.2 270.5 395.8 271.7 397.4 273.0 399.1 274.1 400.7 275.2 402.4 276.3 404.2 277.3 405.9 278.3 407.7 279.2 409.5 280.0 411.4 280.7 413.3 281.4 415.2 282.0 417.1 282.6 419.0 283.0 421.0 283.4 422.9 283.7 424.9 283.8 426.9 283.9 428.8 283.9 430.8 283.8 432.8 283.6 434.8 283.2 436.7 282.8 438.7 282.4 440.6 281.8 442.6 281.2 444.5 280.5 446.4 279.8 448.2 279.1 450.1 278.3 451.9 277.4 453.7 276.5 455.6 275.6 457.3 274.6 459.1 273.6 460.9 272.6 462.6 271.6 464.3 270.5 466.0 269.4 467.7 268.3 469.4 267.2 471.1 266.0 472.7 264.9 474.4 263.7 476.0 262.5 477.6 261.3 479.2 260.1 480.8 258.9 482.4 257.7 484.0 256.6 485.5 255.4 487.1 254.2 488.7 253.0 490.2 251.8 491.8 250.6 493.4 249.4 495.0 248.2 496.5 247.1 498.1 245.9 499.7 244.7 501.3 243.6 503.0 242.5 504.6 241.3 506.2 240.2 507.9 239.1 509.6 238.0 511.3 236.9 513.0 235.9 514.7 234.8 516.4 233.8 518.2 232.8 520.0 231.8 521.7 230.8 523.5 229.8 525.4 228.9 527.2 228.0 529.0 227.1 530.9 226.2 532.7 225.3 534.6 224.5 536.5 223.7 538.3 222.9 540.2 222.2 542.1 221.5 544.1 220.8 546.0 220.1 547.9 219.4 549.8 218.8 551.8 218.3 553.7 217.7 555.6 217.2 557.6 216.7 559.5 216.3 561.5 215.9 563.4 215.5 565.4 215.1 567.3 214.8 569.3 214.6 571.2 214.3 573.2 214.1 575.2 213.9 577.1 213.8 579.1 213.6 581.1 213.5 583.0 213.5 585.0 213.4 587.0 213.4 588.9 213.4 590.9 213.5 592.9 213.5 594.9 213.6 596.8 213.7 598.8 213.8 600.8 214.0 602.8 214.1 604.8 214.3 606.7 214.5 608.7 214.8 610.7 215.0 612.7 215.3 614.7 215.5 616.6 215.8 618.6 216.1 620.6 216.4 622.6 216.8 624.6 217.1 626.6 217.5 628.6 217.8 630.5 218.2 632.5 218.6 634.5 219.0 636.5 219.4 638.5 219.8 640.5 220.2 642.5 220.6 644.4 221.0 646.4 221.5 648.4 221.9 650.4 222.3 652.4 222.8 654.4 223.2 656.3 223.6 658.3 224.1 660.3 224.5 662.3 224.9 664.3 225.4 666.2 225.8 668.2 226.2 670.2 226.7 672.2 227.1 674.1 227.5 676.1 227.9 678.1 228.3 680.1 228.7 682.0 229.0 684.0 229.4 686.0 229.8 687.9 230.1 689.9 230.5 691.8 230.8 693.8 231.1 695.8 231.4 697.7 231.7 699.7 232.0 701.7 232.3 703.6 232.6 705.6 232.8 707.5 233.1 709.5 233.3 711.5 233.6 713.4 233.8 715.4 234.0 717.4 234.2 719.3 234.4 721.3 234.6 723.3 234.8 725.2 234.9 727.2 235.1 729.2 235.2 731.2 235.3 733.2 235.5 735.1 235.6 737.1 235.7 739.1 235.8 741.1 235.8 743.1 235.9 745.1 236.0 747.1 236.0 749.1 236.0 751.1 236.1 753.1 236.1 755.1 236.1 757.1 236.1 759.2 236.1 761.2 236.0 763.2 236.0 765.3 235.9 767.3 235.9 769.3 235.8 771.4 235.7 773.4 235.6 775.5 235.5" stroke="#77AC30" stroke-width="5.4" fill="none" stroke-linejoin="round" stroke-linecap="butt"/>
<text x="112.80" y="810.00" font-size="29" text-anchor="middle">0</text>
<text x="218.10" y="810.00" font-size="29" text-anchor="middle">0.2</text>
<text x="323.40" y="810.00" font-size="29" text-anchor="middle">0.4</text>
<text x="428.70" y="810.00" font-size="29" text-anchor="middle">0.6</text>
<text x="534.00" y="810.00" font-size="29" text-anchor="middle">0.8</text>
<text x="639.30" y="810.00" font-size="29" text-anchor="middle">1</text>
<text x="744.60" y="810.00" font-size="29" text-anchor="middle">1.2</text>
<text x="849.90" y="810.00" font-size="29" text-anchor="middle">1.4</text>
<text x="955.20" y="810.00" font-size="29" text-anchor="middle">1.6</text>
<text x="1060.50" y="810.00" font-size="29" text-anchor="middle">1.8</text>
<text x="100.70" y="781.50" font-size="29" text-anchor="end">0</text>
<text x="100.70" y="674.30" font-size="29" text-anchor="end">0.2</text>
<text x="100.70" y="567.30" font-size="29" text-anchor="end">0.4</text>
<text x="100.70" y="460.00" font-size="29" text-anchor="end">0.6</text>
<text x="100.70" y="352.90" font-size="29" text-anchor="end">0.8</text>
<text x="100.70" y="245.80" font-size="29" text-anchor="end">1</text>
<text x="100.70" y="138.70" font-size="29" text-anchor="end">1.2</text>
<text x="100.70" y="31.30" font-size="29" text-anchor="end">1.4</text>
<text x="587.35" y="854.40" font-size="32" text-anchor="middle">Time</text>
<text transform="translate(43.20 393.70) rotate(-90)" font-size="32" text-anchor="middle">DC Motor Speed</text>
<rect x="825.50" y="258.70" width="220.60" height="185.20" fill="#fff" stroke="#262626" stroke-width="1.4"/>
<path d="M834.00 280.10H921.30" stroke="#0072BD" stroke-width="5.4"/>
<text x="928.00" y="290.10" font-size="26">MEASSA</text>
<path d="M834.00 316.20H921.30" stroke="#D95319" stroke-width="5.4"/>
<text x="928.00" y="326.20" font-size="26">SCA</text>
<path d="M834.00 352.30H921.30" stroke="#EDB120" stroke-width="5.4"/>
<text x="928.00" y="362.30" font-size="26">GWO</text>
<path d="M834.00 388.40H921.30" stroke="#7E2F8E" stroke-width="5.4"/>
<text x="928.00" y="398.40" font-size="26">PSO</text>
<path d="M834.00 424.50H921.30" stroke="#77AC30" stroke-width="5.4"/>
<text x="928.00" y="434.50" font-size="26">IWO</text>
<path d="M256.33 1111.20V1843.80M389.16 1111.20V1843.80M521.99 1111.20V1843.80M654.82 1111.20V1843.80M787.65 1111.20V1843.80M920.48 1111.20V1843.80M123.50 1721.70H1051.20M123.50 1599.60H1051.20M123.50 1477.50H1051.20M123.50 1355.40H1051.20M123.50 1233.30H1051.20" stroke="#d4d4d4" stroke-width="1.2" fill="none"/>
<path d="M256.33 1843.80v-9.5M256.33 1111.20v9.5M389.16 1843.80v-9.5M389.16 1111.20v9.5M521.99 1843.80v-9.5M521.99 1111.20v9.5M654.82 1843.80v-9.5M654.82 1111.20v9.5M787.65 1843.80v-9.5M787.65 1111.20v9.5M920.48 1843.80v-9.5M920.48 1111.20v9.5M123.50 1721.70h9.5M1051.20 1721.70h-9.5M123.50 1599.60h9.5M1051.20 1599.60h-9.5M123.50 1477.50h9.5M1051.20 1477.50h-9.5M123.50 1355.40h9.5M1051.20 1355.40h-9.5M123.50 1233.30h9.5M1051.20 1233.30h-9.5" stroke="#262626" stroke-width="1.6" fill="none"/>
<rect x="123.50" y="1111.20" width="927.70" height="732.60" stroke="#262626" stroke-width="2.2" fill="none"/>
<path d="M123.5 1843.8 123.6 1841.8 123.7 1839.8 123.8 1837.8 123.9 1835.8 124.0 1833.8 124.1 1831.8 124.2 1829.8 124.3 1827.8 124.4 1825.8 124.5 1823.8 124.6 1821.8 124.7 1819.8 124.8 1817.8 124.9 1815.8 125.0 1813.8 125.1 1811.8 125.2 1809.8 125.2 1807.8 125.3 1805.8 125.4 1803.8 125.5 1801.8 125.6 1799.8 125.7 1797.8 125.7 1795.8 125.8 1793.8 125.9 1791.8 126.0 1789.8 126.1 1787.8 126.1 1785.8 126.2 1783.8 126.3 1781.8 126.4 1779.8 126.4 1777.8 126.5 1775.8 126.6 1773.8 126.7 1771.8 126.7 1769.8 126.8 1767.8 126.9 1765.8 126.9 1763.8 127.0 1761.8 127.1 1759.8 127.1 1757.7 127.2 1755.7 127.3 1753.7 127.4 1751.7 127.4 1749.7 127.5 1747.7 127.6 1745.7 127.6 1743.7 127.7 1741.7 127.7 1739.7 127.8 1737.7 127.9 1735.7 127.9 1733.7 128.0 1731.7 128.1 1729.7 128.1 1727.7 128.2 1725.7 128.3 1723.6 128.3 1721.6 128.4 1719.6 128.4 1717.6 128.5 1715.6 128.6 1713.6 128.6 1711.6 128.7 1709.6 128.8 1707.6 128.8 1705.6 128.9 1703.6 128.9 1701.6 129.0 1699.6 129.1 1697.5 129.1 1695.5 129.2 1693.5 129.2 1691.5 129.3 1689.5 129.4 1687.5 129.4 1685.5 129.5 1683.5 129.6 1681.5 129.6 1679.5 129.7 1677.5 129.8 1675.5 129.8 1673.5 129.9 1671.4 129.9 1669.4 130.0 1667.4 130.1 1665.4 130.1 1663.4 130.2 1661.4 130.3 1659.4 130.3 1657.4 130.4 1655.4 130.5 1653.4 130.5 1651.4 130.6 1649.4 130.7 1647.4 130.8 1645.3 130.8 1643.3 130.9 1641.3 131.0 1639.3 131.0 1637.3 131.1 1635.3 131.2 1633.3 131.3 1631.3 131.3 1629.3 131.4 1627.3 131.5 1625.3 131.6 1623.3 131.7 1621.3 131.7 1619.2 131.8 1617.2 131.9 1615.2 132.0 1613.2 132.1 1611.2 132.1 1609.2 132.2 1607.2 132.3 1605.2 132.4 1603.2 132.5 1601.2 132.6 1599.2 132.7 1597.2 132.8 1595.2 132.8 1593.2 132.9 1591.2 133.0 1589.2 133.1 1587.2 133.2 1585.2 133.3 1583.1 133.4 1581.1 133.5 1579.1 133.6 1577.1 133.7 1575.1 133.8 1573.1 133.9 1571.1 134.0 1569.1 134.1 1567.1 134.2 1565.1 134.4 1563.1 134.5 1561.1 134.6 1559.1 134.7 1557.1 134.8 1555.1 134.9 1553.1 135.0 1551.1 135.2 1549.1 135.3 1547.1 135.4 1545.1 135.5 1543.1 135.7 1541.1 135.8 1539.1 135.9 1537.1 136.0 1535.1 136.2 1533.1 136.3 1531.1 136.5 1529.1 136.6 1527.1 136.7 1525.1 136.9 1523.1 137.0 1521.1 137.2 1519.1 137.3 1517.1 137.4 1515.1 137.6 1513.1 137.8 1511.1 137.9 1509.1 138.1 1507.1 138.2 1505.1 138.4 1503.1 138.5 1501.1 138.7 1499.1 138.9 1497.1 139.0 1495.1 139.2 1493.2 139.4 1491.2 139.5 1489.2 139.7 1487.2 139.9 1485.2 140.1 1483.2 140.3 1481.2 140.4 1479.2 140.6 1477.2 140.8 1475.2 141.0 1473.2 141.2 1471.2 141.4 1469.2 141.6 1467.3 141.8 1465.3 142.0 1463.3 142.2 1461.3 142.4 1459.3 142.6 1457.3 142.8 1455.3 143.0 1453.3 143.2 1451.3 143.4 1449.3 143.6 1447.4 143.9 1445.4 144.1 1443.4 144.3 1441.4 144.5 1439.4 144.7 1437.4 145.0 1435.4 145.2 1433.4 145.4 1431.5 145.6 1429.5 145.8 1427.5 146.1 1425.5 146.3 1423.5 146.5 1421.5 146.8 1419.5 147.0 1417.5 147.2 1415.5 147.4 1413.5 147.7 1411.6 147.9 1409.6 148.1 1407.6 148.4 1405.6 148.6 1403.6 148.8 1401.6 149.0 1399.6 149.3 1397.6 149.5 1395.6 149.7 1393.6 150.0 1391.6 150.2 1389.6 150.4 1387.6 150.7 1385.6 150.9 1383.6 151.1 1381.6 151.3 1379.7 151.6 1377.7 151.8 1375.7 152.0 1373.7 152.3 1371.7 152.5 1369.7 152.7 1367.7 152.9 1365.7 153.2 1363.6 153.4 1361.6 153.6 1359.6 153.8 1357.6 154.0 1355.6 154.3 1353.6 154.5 1351.6 154.7 1349.6 154.9 1347.6 155.1 1345.6 155.4 1343.6 155.6 1341.6 155.8 1339.6 156.0 1337.6 156.3 1335.6 156.5 1333.6 156.7 1331.5 157.0 1329.5 157.2 1327.5 157.5 1325.5 157.7 1323.5 158.0 1321.6 158.3 1319.6 158.6 1317.6 158.9 1315.6 159.2 1313.6 159.5 1311.6 159.8 1309.6 160.1 1307.7 160.5 1305.7 160.8 1303.7 161.2 1301.7 161.6 1299.8 162.0 1297.8 162.4 1295.9 162.8 1293.9 163.2 1292.0 163.7 1290.0 164.1 1288.1 164.6 1286.2 165.1 1284.2 165.6 1282.3 166.1 1280.4 166.7 1278.5 167.3 1276.6 167.8 1274.7 168.4 1272.8 169.1 1270.9 169.7 1269.0 170.4 1267.2 171.1 1265.3 171.8 1263.4 172.5 1261.6 173.3 1259.8 174.0 1257.9 174.9 1256.1 175.7 1254.3 176.5 1252.5 177.4 1250.7 178.4 1249.0 179.4 1247.3 180.6 1245.7 181.8 1244.2 183.2 1242.8 184.6 1241.4 186.1 1240.1 187.6 1238.8 189.2 1237.5 190.8 1236.2 192.4 1234.9 194.0 1233.5 195.6 1232.1 197.3 1230.7 198.9 1229.4 200.6 1228.1 202.3 1226.8 204.0 1225.7 205.7 1224.6 207.4 1223.6 209.2 1222.7 211.0 1221.8 212.8 1221.0 214.7 1220.4 216.5 1219.7 218.4 1219.2 220.3 1218.7 222.2 1218.3 224.1 1217.9 226.0 1217.6 228.0 1217.4 229.9 1217.2 231.9 1217.0 233.9 1216.9 235.8 1216.8 237.8 1216.8 239.8 1216.8 241.8 1216.8 243.8 1216.9 245.8 1217.0 247.9 1217.1 249.9 1217.3 251.9 1217.4 253.9 1217.6 255.9 1217.8 257.9 1218.0 259.9 1218.2 261.9 1218.5 263.9 1218.7 265.9 1218.9 267.9 1219.2 269.9 1219.4 271.9 1219.7 273.9 1220.0 275.9 1220.2 277.9 1220.5 279.9 1220.8 281.9 1221.1 283.8 1221.4 285.8 1221.7 287.8 1222.0 289.8 1222.3 291.8 1222.6 293.8 1222.9 295.7 1223.2 297.7 1223.5 299.7 1223.8 301.7 1224.1 303.7 1224.4 305.6 1224.7 307.6 1225.0 309.6 1225.3 311.6 1225.6 313.6 1225.9 315.5 1226.2 317.5 1226.4 319.5 1226.7 321.5 1227.0 323.5 1227.2 325.5 1227.5 327.4 1227.7 329.4 1228.0 331.4 1228.2 333.4 1228.4 335.4 1228.6 337.4 1228.8 339.4 1229.0 341.4 1229.3 343.4 1229.4 345.4 1229.6 347.4 1229.8 349.3 1230.0 351.3 1230.2 353.3 1230.4 355.3 1230.5 357.3 1230.7 359.3 1230.8 361.3 1231.0 363.3 1231.1 365.3 1231.3 367.3 1231.4 369.3 1231.5 371.3 1231.7 373.3 1231.8 375.3 1231.9 377.3 1232.0 379.3 1232.1 381.3 1232.3 383.4 1232.4 385.4 1232.5 387.4 1232.6 389.4 1232.7 391.4 1232.7 393.4 1232.8 395.4 1232.9 397.4 1233.0 399.4 1233.1 401.4 1233.2 403.4 1233.2 405.4 1233.3 407.4 1233.4 409.4 1233.4 411.4 1233.5 413.5 1233.6 415.5 1233.6 417.5 1233.7 419.5 1233.7 421.5 1233.8 423.5 1233.8 425.5 1233.9 427.5 1233.9 429.5 1234.0 431.5 1234.0 433.5 1234.1 435.5 1234.1 437.6 1234.1 439.6 1234.2 441.6 1234.2 443.6 1234.2 445.6 1234.3 447.6 1234.3 449.6 1234.4 451.6 1234.4 453.6 1234.4 455.6 1234.5 457.6 1234.5 459.6 1234.5 461.7 1234.6 463.7 1234.6 465.7 1234.6 467.7 1234.7 469.7 1234.7 471.7 1234.7 473.7 1234.8 475.7 1234.8 477.7 1234.8 479.7 1234.9 481.7 1234.9 483.7 1234.9 485.7 1235.0 487.7 1235.0 489.7 1235.1 491.7 1235.1 493.7 1235.1 495.7 1235.2 497.7 1235.2 499.7 1235.3 501.7 1235.3 503.7 1235.4 505.7 1235.4 507.7 1235.5" stroke="#0072BD" stroke-width="5.2" fill="none" stroke-linejoin="round" stroke-linecap="butt"/>
<path d="M123.5 1843.8 123.6 1841.8 123.7 1839.8 123.8 1837.8 123.8 1835.8 123.9 1833.8 124.0 1831.7 124.1 1829.7 124.2 1827.7 124.3 1825.7 124.4 1823.7 124.5 1821.7 124.6 1819.7 124.6 1817.7 124.7 1815.7 124.8 1813.7 124.9 1811.7 125.0 1809.7 125.1 1807.7 125.2 1805.6 125.3 1803.6 125.4 1801.6 125.5 1799.6 125.6 1797.6 125.7 1795.6 125.7 1793.6 125.8 1791.6 125.9 1789.6 126.0 1787.6 126.1 1785.6 126.2 1783.6 126.3 1781.6 126.4 1779.6 126.5 1777.6 126.6 1775.6 126.7 1773.6 126.8 1771.6 126.9 1769.5 127.0 1767.5 127.0 1765.5 127.1 1763.5 127.2 1761.5 127.3 1759.5 127.4 1757.5 127.5 1755.5 127.6 1753.5 127.7 1751.5 127.8 1749.5 127.9 1747.5 128.0 1745.5 128.1 1743.5 128.2 1741.5 128.3 1739.5 128.4 1737.5 128.5 1735.5 128.6 1733.5 128.7 1731.5 128.8 1729.5 128.8 1727.5 128.9 1725.4 129.0 1723.4 129.1 1721.4 129.2 1719.4 129.3 1717.4 129.4 1715.4 129.5 1713.4 129.6 1711.4 129.7 1709.4 129.8 1707.4 129.9 1705.4 130.0 1703.4 130.1 1701.4 130.2 1699.4 130.3 1697.4 130.4 1695.4 130.5 1693.4 130.5 1691.4 130.6 1689.4 130.7 1687.4 130.8 1685.4 130.9 1683.4 131.0 1681.4 131.1 1679.3 131.2 1677.3 131.3 1675.3 131.4 1673.3 131.5 1671.3 131.6 1669.3 131.7 1667.3 131.8 1665.3 131.9 1663.3 131.9 1661.3 132.0 1659.3 132.1 1657.3 132.2 1655.3 132.3 1653.3 132.4 1651.3 132.5 1649.3 132.6 1647.3 132.7 1645.3 132.8 1643.2 132.9 1641.2 132.9 1639.2 133.0 1637.2 133.1 1635.2 133.2 1633.2 133.3 1631.2 133.4 1629.2 133.5 1627.2 133.6 1625.2 133.7 1623.2 133.7 1621.2 133.8 1619.2 133.9 1617.2 134.0 1615.2 134.1 1613.1 134.2 1611.1 134.3 1609.1 134.3 1607.1 134.4 1605.1 134.5 1603.1 134.6 1601.1 134.7 1599.1 134.8 1597.1 134.9 1595.1 134.9 1593.1 135.0 1591.0 135.1 1589.0 135.2 1587.0 135.3 1585.0 135.4 1583.0 135.4 1581.0 135.5 1579.0 135.6 1577.0 135.7 1575.0 135.8 1573.0 135.9 1570.9 136.0 1568.9 136.0 1566.9 136.1 1564.9 136.2 1562.9 136.3 1560.9 136.4 1558.9 136.5 1556.9 136.6 1554.9 136.7 1552.9 136.8 1550.9 136.9 1548.8 137.0 1546.8 137.1 1544.8 137.2 1542.8 137.3 1540.8 137.4 1538.8 137.5 1536.8 137.6 1534.8 137.8 1532.8 137.9 1530.8 138.0 1528.8 138.1 1526.8 138.2 1524.8 138.4 1522.8 138.5 1520.7 138.6 1518.7 138.8 1516.7 138.9 1514.7 139.0 1512.7 139.2 1510.7 139.3 1508.7 139.5 1506.7 139.6 1504.7 139.8 1502.7 139.9 1500.7 140.1 1498.7 140.3 1496.7 140.4 1494.7 140.6 1492.7 140.8 1490.7 141.0 1488.7 141.1 1486.7 141.3 1484.7 141.5 1482.7 141.7 1480.7 141.9 1478.7 142.1 1476.8 142.3 1474.8 142.5 1472.8 142.7 1470.8 143.0 1468.8 143.2 1466.8 143.4 1464.8 143.6 1462.8 143.9 1460.8 144.1 1458.8 144.4 1456.8 144.6 1454.9 144.8 1452.9 145.1 1450.9 145.3 1448.9 145.6 1446.9 145.9 1444.9 146.1 1442.9 146.4 1441.0 146.6 1439.0 146.9 1437.0 147.2 1435.0 147.4 1433.0 147.7 1431.0 148.0 1429.0 148.2 1427.1 148.5 1425.1 148.8 1423.1 149.1 1421.1 149.3 1419.1 149.6 1417.1 149.9 1415.1 150.2 1413.2 150.4 1411.2 150.7 1409.2 151.0 1407.2 151.3 1405.2 151.6 1403.2 151.8 1401.2 152.1 1399.2 152.4 1397.3 152.7 1395.3 152.9 1393.3 153.2 1391.3 153.5 1389.3 153.7 1387.3 154.0 1385.3 154.3 1383.3 154.5 1381.3 154.8 1379.3 155.1 1377.3 155.3 1375.3 155.6 1373.4 155.8 1371.4 156.1 1369.4 156.4 1367.4 156.6 1365.4 156.8 1363.4 157.1 1361.4 157.3 1359.4 157.6 1357.4 157.8 1355.4 158.0 1353.4 158.3 1351.4 158.5 1349.3 158.7 1347.3 158.9 1345.3 159.2 1343.3 159.4 1341.3 159.6 1339.3 159.8 1337.3 160.1 1335.3 160.3 1333.3 160.5 1331.3 160.8 1329.3 161.0 1327.3 161.3 1325.3 161.5 1323.3 161.8 1321.3 162.0 1319.3 162.3 1317.3 162.6 1315.3 162.9 1313.4 163.2 1311.4 163.5 1309.4 163.9 1307.4 164.2 1305.4 164.6 1303.5 164.9 1301.5 165.3 1299.6 165.7 1297.6 166.1 1295.6 166.5 1293.7 167.0 1291.7 167.4 1289.8 167.9 1287.9 168.4 1285.9 168.9 1284.0 169.4 1282.1 170.0 1280.2 170.5 1278.3 171.1 1276.4 171.8 1274.5 172.4 1272.6 173.0 1270.7 173.7 1268.8 174.4 1266.9 175.2 1265.1 175.9 1263.2 176.7 1261.4 177.5 1259.5 178.4 1257.7 179.2 1255.9 180.1 1254.1 181.0 1252.2 182.0 1250.4 183.0 1248.7 184.0 1246.9 185.1 1245.1 186.1 1243.4 187.3 1241.7 188.4 1240.0 189.6 1238.4 190.8 1236.8 192.1 1235.2 193.4 1233.6 194.7 1232.1 196.1 1230.7 197.5 1229.2 199.0 1227.9 200.5 1226.5 202.0 1225.3 203.6 1224.0 205.2 1222.9 206.8 1221.8 208.5 1220.7 210.2 1219.7 212.0 1218.8 213.7 1218.0 215.6 1217.2 217.4 1216.5 219.2 1215.9 221.1 1215.4 223.1 1214.9 225.0 1214.5 227.0 1214.2 228.9 1213.9 230.9 1213.7 232.9 1213.5 234.9 1213.3 236.9 1213.2 238.9 1213.2 240.9 1213.2 242.9 1213.2 245.0 1213.2 247.0 1213.2 249.0 1213.3 251.0 1213.4 253.0 1213.6 255.0 1213.7 257.0 1213.9 259.0 1214.1 261.1 1214.3 263.1 1214.5 265.1 1214.7 267.1 1215.0 269.1 1215.2 271.1 1215.5 273.1 1215.7 275.2 1216.0 277.2 1216.3 279.2 1216.5 281.2 1216.8 283.2 1217.1 285.2 1217.3 287.2 1217.6 289.2 1217.8 291.2 1218.1 293.2 1218.3 295.2 1218.5 297.3 1218.8 299.3 1219.0 301.3 1219.2 303.3 1219.4 305.3 1219.5 307.3 1219.7 309.2 1219.9 311.2 1220.1 313.2 1220.2 315.2 1220.4 317.2 1220.5 319.2 1220.7 321.2 1220.8 323.2 1220.9 325.2 1221.1 327.2 1221.2 329.2 1221.3 331.2 1221.5 333.2 1221.6 335.2 1221.7 337.2 1221.8 339.2 1222.0 341.2 1222.1 343.2 1222.2 345.2 1222.3 347.2 1222.4 349.2 1222.6 351.2 1222.7 353.2 1222.8 355.2 1222.9 357.2 1223.0 359.2 1223.1 361.2 1223.2 363.2 1223.3 365.2 1223.5 367.2 1223.6 369.2 1223.7 371.2 1223.8 373.2 1223.9 375.2 1224.0 377.2 1224.1 379.2 1224.2 381.2 1224.3 383.2 1224.4 385.2 1224.5 387.2 1224.6 389.2 1224.7 391.2 1224.8 393.2 1224.9 395.2 1225.0 397.3 1225.0 399.3 1225.1 401.3 1225.2 403.3 1225.3 405.3 1225.4 407.3 1225.5 409.3 1225.6 411.3 1225.7 413.3 1225.7 415.3 1225.8 417.3 1225.9 419.3 1226.0 421.3 1226.1 423.4 1226.1 425.4 1226.2 427.4 1226.3 429.4 1226.4 431.4 1226.4 433.4 1226.5 435.4 1226.6 437.4 1226.6 439.4 1226.7 441.4 1226.8 443.4 1226.8 445.5 1226.9 447.5 1226.9 449.5 1227.0 451.5 1227.1 453.5 1227.1 455.5 1227.2 457.5 1227.2 459.5 1227.3 461.5 1227.3 463.5 1227.4 465.6 1227.4 467.6 1227.5 469.6 1227.5 471.6 1227.6 473.6 1227.6 475.6 1227.7 477.6 1227.7 479.6 1227.8 481.6 1227.8 483.6 1227.8 485.6 1227.9 487.7 1227.9 489.7 1227.9 491.7 1228.0 493.7 1228.0 495.7 1228.0 497.7 1228.1 499.7 1228.1 501.7 1228.1 503.7 1228.1 505.7 1228.1 507.7 1228.2 509.7 1228.2 511.7 1228.2 513.8 1228.2 515.8 1228.2 517.8 1228.2 519.8 1228.3 521.8 1228.3 523.8 1228.3 525.8 1228.3 527.8 1228.3 529.8 1228.3 531.8 1228.3 533.8 1228.3" stroke="#D95319" stroke-width="5.2" fill="none" stroke-linejoin="round" stroke-linecap="butt"/>
<path d="M123.5 1843.8 123.5 1841.8 123.5 1839.8 123.5 1837.8 123.5 1835.8 123.5 1833.7 123.5 1831.7 123.5 1829.7 123.5 1827.7 123.5 1825.7 123.5 1823.7 123.5 1821.7 123.5 1819.7 123.5 1817.6 123.5 1815.6 123.5 1813.6 123.5 1811.6 123.5 1809.6 123.5 1807.6 123.5 1805.6 123.5 1803.6 123.5 1801.6 123.5 1799.6 123.5 1797.5 123.5 1795.5 123.5 1793.5 123.5 1791.5 123.5 1789.5 123.5 1787.5 123.5 1785.5 123.5 1783.5 123.5 1781.5 123.5 1779.5 123.5 1777.4 123.5 1775.4 123.5 1773.4 123.6 1771.4 123.6 1769.4 123.6 1767.4 123.6 1765.4 123.6 1763.4 123.6 1761.4 123.6 1759.4 123.6 1757.3 123.6 1755.3 123.6 1753.3 123.6 1751.3 123.6 1749.3 123.6 1747.3 123.6 1745.3 123.6 1743.3 123.6 1741.3 123.6 1739.3 123.6 1737.3 123.6 1735.2 123.6 1733.2 123.6 1731.2 123.6 1729.2 123.6 1727.2 123.6 1725.2 123.6 1723.2 123.6 1721.2 123.6 1719.2 123.6 1717.2 123.6 1715.2 123.7 1713.2 123.7 1711.1 123.7 1709.1 123.7 1707.1 123.7 1705.1 123.7 1703.1 123.7 1701.1 123.7 1699.1 123.7 1697.1 123.7 1695.1 123.7 1693.1 123.7 1691.1 123.7 1689.1 123.7 1687.0 123.7 1685.0 123.7 1683.0 123.7 1681.0 123.7 1679.0 123.8 1677.0 123.8 1675.0 123.8 1673.0 123.8 1671.0 123.8 1669.0 123.8 1667.0 123.8 1665.0 123.8 1663.0 123.8 1660.9 123.8 1658.9 123.8 1656.9 123.8 1654.9 123.8 1652.9 123.9 1650.9 123.9 1648.9 123.9 1646.9 123.9 1644.9 123.9 1642.9 123.9 1640.9 123.9 1638.9 123.9 1636.9 123.9 1634.8 123.9 1632.8 123.9 1630.8 124.0 1628.8 124.0 1626.8 124.0 1624.8 124.0 1622.8 124.0 1620.8 124.0 1618.8 124.0 1616.8 124.0 1614.8 124.0 1612.8 124.0 1610.8 124.1 1608.8 124.1 1606.7 124.1 1604.7 124.1 1602.7 124.1 1600.7 124.1 1598.7 124.1 1596.7 124.1 1594.7 124.2 1592.7 124.2 1590.7 124.2 1588.7 124.2 1586.7 124.2 1584.7 124.2 1582.7 124.2 1580.6 124.2 1578.6 124.3 1576.6 124.3 1574.6 124.3 1572.6 124.3 1570.6 124.3 1568.6 124.3 1566.6 124.4 1564.6 124.4 1562.6 124.4 1560.6 124.4 1558.6 124.4 1556.6 124.4 1554.5 124.4 1552.5 124.5 1550.5 124.5 1548.5 124.5 1546.5 124.5 1544.5 124.5 1542.5 124.6 1540.5 124.6 1538.5 124.6 1536.5 124.6 1534.5 124.6 1532.5 124.6 1530.5 124.7 1528.4 124.7 1526.4 124.7 1524.4 124.7 1522.4 124.7 1520.4 124.8 1518.4 124.8 1516.4 124.8 1514.4 124.8 1512.4 124.8 1510.4 124.9 1508.4 124.9 1506.4 124.9 1504.3 124.9 1502.3 124.9 1500.3 125.0 1498.3 125.0 1496.3 125.0 1494.3 125.0 1492.3 125.1 1490.3 125.1 1488.3 125.1 1486.3 125.1 1484.3 125.2 1482.3 125.2 1480.2 125.2 1478.2 125.2 1476.2 125.3 1474.2 125.3 1472.2 125.3 1470.2 125.3 1468.2 125.4 1466.2 125.4 1464.2 125.4 1462.2 125.4 1460.2 125.5 1458.1 125.5 1456.1 125.5 1454.1 125.5 1452.1 125.6 1450.1 125.6 1448.1 125.6 1446.1 125.7 1444.1 125.7 1442.1 125.7 1440.1 125.7 1438.1 125.8 1436.0 125.8 1434.0 125.8 1432.0 125.9 1430.0 125.9 1428.0 125.9 1426.0 126.0 1424.0 126.0 1422.0 126.0 1420.0 126.1 1418.0 126.1 1415.9 126.1 1413.9 126.1 1411.9 126.2 1409.9 126.2 1407.9 126.2 1405.9 126.3 1403.9 126.3 1401.9 126.4 1399.9 126.4 1397.8 126.4 1395.8 126.5 1393.8 126.5 1391.8 126.5 1389.8 126.6 1387.8 126.6 1385.8 126.6 1383.8 126.7 1381.8 126.7 1379.7 126.8 1377.7 126.8 1375.7 126.8 1373.7 126.9 1371.7 126.9 1369.7 126.9 1367.7 127.0 1365.7 127.0 1363.6 127.1 1361.6 127.1 1359.6 127.1 1357.6 127.2 1355.6 127.2 1353.6 127.3 1351.6 127.3 1349.6 127.4 1347.5 127.4 1345.5 127.4 1343.5 127.5 1341.5 127.5 1339.5 127.6 1337.5 127.6 1335.5 127.7 1333.5 127.7 1331.4 127.8 1329.4 127.8 1327.4 127.8 1325.4 127.9 1323.4 127.9 1321.4 128.0 1319.4 128.0 1317.3 128.1 1315.3 128.1 1313.3 128.2 1311.3 128.2 1309.3 128.3 1307.3 128.3 1305.3 128.4 1303.2 128.4 1301.2 128.5 1299.2 128.6 1297.2 128.6 1295.2 128.7 1293.2 128.8 1291.2 128.9 1289.2 129.0 1287.2 129.2 1285.2 129.3 1283.2 129.5 1281.2 129.7 1279.2 129.9 1277.2 130.1 1275.2 130.3 1273.2 130.5 1271.3 130.8 1269.3 131.1 1267.3 131.4 1265.4 131.8 1263.4 132.2 1261.5 132.6 1259.5 133.0 1257.6 133.5 1255.7 134.1 1253.8 134.8 1252.0 135.5 1250.2 136.4 1248.4 137.4 1246.7 138.5 1245.1 139.7 1243.5" stroke="#EDB120" stroke-width="5.2" fill="none" stroke-linejoin="round" stroke-linecap="butt"/>
<path d="M123.5 1843.8 123.6 1841.8 123.6 1839.8 123.7 1837.8 123.8 1835.8 123.9 1833.8 124.0 1831.7 124.1 1829.7 124.2 1827.7 124.3 1825.7 124.4 1823.7 124.5 1821.7 124.6 1819.7 124.7 1817.7 124.8 1815.7 124.9 1813.7 125.0 1811.7 125.2 1809.7 125.3 1807.7 125.4 1805.7 125.5 1803.7 125.7 1801.7 125.8 1799.7 125.9 1797.7 126.1 1795.7 126.2 1793.7 126.4 1791.7 126.5 1789.6 126.7 1787.6 126.8 1785.6 127.0 1783.6 127.1 1781.6 127.3 1779.6 127.4 1777.6 127.6 1775.6 127.7 1773.6 127.9 1771.6 128.1 1769.6 128.2 1767.6 128.4 1765.6 128.6 1763.6 128.7 1761.6 128.9 1759.6 129.1 1757.6 129.3 1755.6 129.4 1753.6 129.6 1751.6 129.8 1749.6 130.0 1747.6 130.1 1745.6 130.3 1743.6 130.5 1741.6 130.7 1739.6 130.9 1737.6 131.0 1735.7 131.2 1733.7 131.4 1731.7 131.6 1729.7 131.8 1727.7 132.0 1725.7 132.2 1723.7 132.3 1721.7 132.5 1719.7 132.7 1717.7 132.9 1715.7 133.1 1713.7 133.3 1711.7 133.5 1709.7 133.7 1707.7 133.8 1705.7 134.0 1703.7 134.2 1701.7 134.4 1699.7 134.6 1697.7 134.8 1695.7 135.0 1693.7 135.1 1691.7 135.3 1689.7 135.5 1687.7 135.7 1685.7 135.9 1683.7 136.1 1681.7 136.3 1679.7 136.4 1677.7 136.6 1675.7 136.8 1673.7 137.0 1671.7 137.2 1669.7 137.3 1667.7 137.5 1665.7 137.7 1663.7 137.9 1661.7 138.1 1659.7 138.2 1657.7 138.4 1655.7 138.6 1653.7 138.8 1651.7 138.9 1649.7 139.1 1647.7 139.3 1645.7 139.5 1643.7 139.6 1641.7 139.8 1639.7 140.0 1637.7 140.2 1635.7 140.4 1633.7 140.5 1631.7 140.7 1629.7 140.9 1627.7 141.1 1625.7 141.2 1623.7 141.4 1621.7 141.6 1619.7 141.7 1617.7 141.9 1615.7 142.1 1613.7 142.3 1611.7 142.4 1609.7 142.6 1607.7 142.8 1605.7 143.0 1603.7 143.1 1601.7 143.3 1599.7 143.5 1597.7 143.7 1595.7 143.8 1593.7 144.0 1591.7 144.2 1589.7 144.4 1587.7 144.5 1585.7 144.7 1583.7 144.9 1581.7 145.1 1579.7 145.2 1577.6 145.4 1575.6 145.6 1573.6 145.8 1571.6 145.9 1569.6 146.1 1567.6 146.3 1565.6 146.5 1563.6 146.6 1561.6 146.8 1559.6 147.0 1557.6 147.2 1555.6 147.3 1553.6 147.5 1551.6 147.7 1549.6 147.9 1547.6 148.1 1545.6 148.2 1543.6 148.4 1541.6 148.6 1539.6 148.8 1537.6 149.0 1535.6 149.1 1533.6 149.3 1531.6 149.5 1529.6 149.7 1527.6 149.9 1525.6 150.1 1523.6 150.2 1521.6 150.4 1519.6 150.6 1517.6 150.8 1515.6 151.0 1513.6 151.2 1511.6 151.4 1509.6 151.5 1507.6 151.7 1505.6 151.9 1503.6 152.1 1501.6 152.3 1499.6 152.5 1497.6 152.7 1495.6 152.9 1493.7 153.1 1491.7 153.3 1489.7 153.5 1487.7 153.7 1485.7 153.9 1483.7 154.0 1481.7 154.2 1479.7 154.4 1477.7 154.6 1475.7 154.8 1473.7 155.0 1471.7 155.2 1469.7 155.4 1467.7 155.7 1465.7 155.9 1463.7 156.1 1461.7 156.3 1459.7 156.5 1457.7 156.7 1455.7 156.9 1453.7 157.1 1451.7 157.3 1449.7 157.5 1447.7 157.7 1445.7 158.0 1443.7 158.2 1441.7 158.4 1439.7 158.6 1437.7 158.8 1435.7 159.0 1433.8 159.3 1431.8 159.5 1429.8 159.7 1427.8 159.9 1425.8 160.2 1423.8 160.4 1421.8 160.6 1419.8 160.9 1417.8 161.1 1415.8 161.3 1413.8 161.6 1411.8 161.8 1409.8 162.0 1407.8 162.3 1405.8 162.5 1403.9 162.8 1401.9 163.0 1399.9 163.2 1397.9 163.5 1395.9 163.7 1393.9 164.0 1391.9 164.2 1389.9 164.5 1387.9 164.8 1385.9 165.0 1383.9 165.3 1382.0 165.5 1380.0 165.8 1378.0 166.1 1376.0 166.3 1374.0 166.6 1372.0 166.9 1370.0 167.2 1368.0 167.4 1366.0 167.7 1364.1 168.0 1362.1 168.3 1360.1 168.6 1358.1 168.8 1356.1 169.1 1354.1 169.4 1352.1 169.7 1350.1 170.0 1348.2 170.3 1346.2 170.6 1344.2 170.9 1342.2 171.2 1340.2 171.5 1338.2 171.8 1336.2 172.1 1334.3 172.4 1332.3 172.7 1330.3 173.1 1328.3 173.4 1326.3 173.7 1324.3 174.0 1322.4 174.4 1320.4 174.7 1318.4 175.0 1316.4 175.4 1314.4 175.7 1312.4 176.0 1310.5 176.4 1308.5 176.7 1306.5 177.1 1304.5 177.4 1302.5 177.8 1300.6 178.1 1298.6 178.5 1296.6 178.8 1294.6 179.2 1292.6 179.6 1290.7 180.0 1288.7 180.3 1286.7 180.7 1284.7 181.1 1282.8 181.5 1280.8 181.9 1278.8 182.2 1276.9 182.6 1274.9 183.0 1272.9 183.4 1270.9 183.8 1269.0 184.3 1267.0 184.7 1265.0 185.1 1263.1 185.5 1261.1 185.9 1259.2 186.4 1257.2 186.8 1255.2 187.2 1253.3 187.7 1251.3 188.1 1249.4 188.6 1247.4 189.0 1245.5 189.5 1243.5 189.9 1241.6 190.4 1239.7 190.9 1237.7 191.4 1235.8 191.8 1233.8 192.3 1231.9 192.8 1230.0 193.3 1228.0 193.8 1226.1 194.3 1224.2 194.8 1222.3 195.3 1220.3 195.9 1218.4 196.4 1216.5 196.9 1214.6 197.5 1212.7 198.0 1210.7 198.6 1208.8 199.2 1206.9 199.8 1205.0 200.4 1203.0 201.0 1201.1 201.6 1199.2 202.2 1197.3 202.9 1195.3 203.5 1193.4 204.2 1191.4 204.9 1189.5 205.6 1187.6 206.4 1185.7 207.1 1183.7 207.9 1181.9 208.8 1180.0 209.6 1178.1 210.6 1176.3 211.5 1174.5 212.5 1172.8 213.6 1171.1 214.7 1169.4 215.8 1167.8 217.1 1166.2 218.4 1164.7 219.7 1163.2 221.2 1161.8 222.7 1160.5 224.2 1159.2 225.8 1158.1 227.5 1157.0 229.3 1156.0 231.1 1155.1 232.9 1154.4 234.7 1153.7 236.6 1153.3 238.5 1152.9 240.4 1152.8 242.3 1152.8 244.3 1153.0 246.2 1153.3 248.1 1153.8 250.0 1154.4 251.9 1155.2 253.7 1156.0 255.6 1156.9 257.4 1158.0 259.1 1159.0 260.8 1160.2 262.5 1161.4 264.1 1162.6 265.7 1163.9 267.3 1165.2 268.8 1166.5 270.3 1167.9 271.8 1169.2 273.3 1170.6 274.7 1172.0 276.2 1173.4 277.7 1174.8 279.1 1176.2 280.6 1177.5 282.1 1178.9 283.6 1180.2 285.1 1181.5 286.7 1182.8 288.2 1184.1 289.7 1185.3 291.3 1186.6 292.9 1187.8 294.4 1189.1 296.0 1190.3 297.6 1191.5 299.2 1192.7 300.8 1193.9 302.4 1195.1 304.0 1196.3 305.6 1197.5 307.1 1198.7 308.7 1200.0 310.3 1201.2 311.9 1202.4 313.5 1203.6 315.1 1204.8 316.7 1205.9 318.3 1207.1 319.9 1208.3 321.6 1209.5 323.2 1210.6 324.9 1211.7 326.5 1212.8 328.2 1213.9 329.9 1215.0 331.6 1216.1 333.3 1217.1 335.0 1218.1 336.8 1219.1 338.6 1220.0 340.3 1221.0 342.1 1221.9 343.9 1222.8 345.7 1223.7 347.5 1224.6 349.4 1225.5 351.2 1226.3 353.0 1227.2 354.9 1228.0 356.7 1228.9 358.5 1229.7 360.4 1230.5 362.2 1231.3 364.0 1232.1 365.9 1232.9 367.7 1233.7 369.6 1234.4 371.4 1235.1 373.3 1235.8 375.2 1236.4 377.1 1237.0 379.0 1237.6 380.9 1238.1 382.8 1238.6 384.7 1239.0 386.7 1239.4 388.6 1239.7 390.6 1240.0 392.6 1240.2 394.6 1240.3 396.6 1240.4 398.7 1240.5 400.7 1240.5 402.7 1240.5 404.8 1240.5 406.8 1240.4 408.9 1240.4 411.0 1240.3 413.0 1240.2 415.1 1240.1 417.1 1240.0 419.2 1239.9 421.2 1239.8 423.2 1239.8 425.2 1239.8 427.2 1239.8 429.2 1239.8 431.2 1239.9 433.2 1240.0 435.1 1240.2 437.0 1240.4" stroke="#7E2F8E" stroke-width="5.2" fill="none" stroke-linejoin="round" stroke-linecap="butt"/>
<path d="M123.5 1843.8 123.6 1841.8 123.8 1839.8 123.9 1837.8 124.0 1835.8 124.2 1833.8 124.3 1831.8 124.4 1829.8 124.6 1827.8 124.7 1825.8 124.8 1823.8 124.9 1821.8 125.1 1819.8 125.2 1817.8 125.3 1815.8 125.4 1813.8 125.5 1811.8 125.7 1809.8 125.8 1807.8 125.9 1805.8 126.0 1803.8 126.1 1801.8 126.2 1799.8 126.3 1797.8 126.4 1795.8 126.5 1793.8 126.6 1791.8 126.7 1789.8 126.8 1787.8 126.9 1785.8 127.0 1783.8 127.1 1781.8 127.2 1779.8 127.3 1777.8 127.4 1775.8 127.5 1773.8 127.6 1771.8 127.7 1769.8 127.8 1767.8 127.9 1765.8 128.0 1763.8 128.1 1761.8 128.2 1759.8 128.3 1757.8 128.3 1755.8 128.4 1753.8 128.5 1751.8 128.6 1749.8 128.7 1747.8 128.8 1745.8 128.9 1743.8 129.0 1741.8 129.0 1739.8 129.1 1737.8 129.2 1735.8 129.3 1733.8 129.4 1731.8 129.4 1729.8 129.5 1727.8 129.6 1725.8 129.7 1723.8 129.8 1721.7 129.9 1719.7 129.9 1717.7 130.0 1715.7 130.1 1713.7 130.2 1711.7 130.3 1709.7 130.3 1707.7 130.4 1705.7 130.5 1703.7 130.6 1701.7 130.7 1699.7 130.7 1697.7 130.8 1695.7 130.9 1693.7 131.0 1691.7 131.1 1689.7 131.1 1687.7 131.2 1685.7 131.3 1683.7 131.4 1681.7 131.5 1679.7 131.6 1677.7 131.6 1675.7 131.7 1673.7 131.8 1671.6 131.9 1669.6 132.0 1667.6 132.1 1665.6 132.1 1663.6 132.2 1661.6 132.3 1659.6 132.4 1657.6 132.5 1655.6 132.6 1653.6 132.7 1651.6 132.8 1649.6 132.8 1647.6 132.9 1645.6 133.0 1643.6 133.1 1641.6 133.2 1639.6 133.3 1637.6 133.4 1635.6 133.5 1633.6 133.6 1631.6 133.7 1629.6 133.8 1627.6 133.9 1625.6 134.0 1623.6 134.1 1621.6 134.2 1619.6 134.3 1617.6 134.4 1615.6 134.5 1613.6 134.6 1611.6 134.7 1609.6 134.8 1607.6 135.0 1605.6 135.1 1603.6 135.2 1601.6 135.3 1599.6 135.4 1597.6 135.5 1595.6 135.7 1593.6 135.8 1591.6 135.9 1589.6 136.0 1587.6 136.1 1585.6 136.3 1583.6 136.4 1581.6 136.5 1579.6 136.7 1577.6 136.8 1575.6 136.9 1573.6 137.1 1571.6 137.2 1569.6 137.3 1567.6 137.5 1565.6 137.6 1563.6 137.8 1561.6 137.9 1559.6 138.1 1557.6 138.2 1555.6 138.4 1553.6 138.5 1551.6 138.7 1549.6 138.8 1547.6 139.0 1545.6 139.2 1543.6 139.3 1541.6 139.5 1539.6 139.7 1537.6 139.8 1535.6 140.0 1533.6 140.2 1531.6 140.4 1529.6 140.5 1527.6 140.7 1525.7 140.9 1523.7 141.1 1521.7 141.3 1519.7 141.5 1517.7 141.7 1515.7 141.9 1513.7 142.1 1511.7 142.3 1509.7 142.5 1507.7 142.7 1505.7 142.9 1503.7 143.1 1501.7 143.3 1499.8 143.5 1497.8 143.7 1495.8 144.0 1493.8 144.2 1491.8 144.4 1489.8 144.6 1487.8 144.9 1485.8 145.1 1483.8 145.3 1481.9 145.6 1479.9 145.8 1477.9 146.1 1475.9 146.3 1473.9 146.6 1471.9 146.8 1469.9 147.1 1468.0 147.3 1466.0 147.6 1464.0 147.9 1462.0 148.1 1460.0 148.4 1458.0 148.7 1456.0 148.9 1454.1 149.2 1452.1 149.5 1450.1 149.7 1448.1 150.0 1446.1 150.3 1444.1 150.6 1442.2 150.8 1440.2 151.1 1438.2 151.4 1436.2 151.7 1434.2 151.9 1432.2 152.2 1430.2 152.5 1428.3 152.8 1426.3 153.0 1424.3 153.3 1422.3 153.6 1420.3 153.8 1418.3 154.1 1416.3 154.4 1414.4 154.6 1412.4 154.9 1410.4 155.2 1408.4 155.4 1406.4 155.7 1404.4 155.9 1402.4 156.2 1400.4 156.4 1398.5 156.7 1396.5 156.9 1394.5 157.2 1392.5 157.4 1390.5 157.7 1388.5 157.9 1386.5 158.1 1384.5 158.3 1382.5 158.6 1380.5 158.8 1378.5 159.0 1376.5 159.2 1374.5 159.4 1372.5 159.6 1370.5 159.8 1368.5 160.0 1366.5 160.2 1364.6 160.4 1362.6 160.6 1360.6 160.8 1358.6 161.0 1356.6 161.2 1354.6 161.5 1352.6 161.7 1350.6 161.9 1348.6 162.1 1346.6 162.3 1344.6 162.5 1342.6 162.8 1340.6 163.0 1338.6 163.3 1336.6 163.5 1334.6 163.8 1332.7 164.0 1330.7 164.3 1328.7 164.6 1326.7 164.9 1324.7 165.2 1322.7 165.5 1320.8 165.8 1318.8 166.2 1316.8 166.5 1314.8 166.9 1312.9 167.2 1310.9 167.6 1308.9 168.0 1307.0 168.4 1305.0 168.9 1303.1 169.3 1301.1 169.8 1299.2 170.2 1297.2 170.7 1295.3 171.2 1293.3 171.7 1291.4 172.3 1289.5 172.8 1287.6 173.4 1285.7 174.0 1283.7 174.6 1281.8 175.2 1280.0 175.9 1278.1 176.5 1276.2 177.2 1274.3 177.9 1272.4 178.7 1270.6 179.4 1268.7 180.2 1266.9 180.9 1265.1 181.8 1263.3 182.6 1261.5 183.4 1259.7 184.3 1257.9 185.2 1256.1 186.1 1254.3 187.1 1252.6 188.0 1250.8 189.0 1249.1 190.0 1247.4 191.1 1245.6 192.1 1243.9 193.1 1242.2 194.2 1240.5 195.2 1238.7 196.2 1237.0 197.3 1235.2 198.3 1233.4 199.3 1231.6 200.3 1229.8 201.3 1228.0 202.3 1226.2 203.4 1224.4 204.5 1222.7 205.7 1221.0 206.9 1219.4 208.2 1217.9 209.5 1216.5 211.0 1215.1 212.5 1213.8 214.0 1212.6 215.6 1211.4 217.2 1210.3 218.9 1209.3 220.6 1208.3 222.4 1207.4 224.2 1206.5 226.0 1205.7 227.9 1205.0 229.8 1204.3 231.7 1203.7 233.6 1203.1 235.5 1202.6 237.5 1202.1 239.4 1201.6 241.4 1201.2 243.3 1200.9 245.3 1200.6 247.2 1200.3 249.2 1200.1 251.2 1199.9 253.1 1199.7 255.1 1199.6 257.1 1199.5 259.1 1199.4 261.0 1199.4 263.0 1199.4 265.0 1199.4 267.0 1199.5 269.0 1199.5 271.0 1199.6 272.9 1199.8 274.9 1199.9 276.9 1200.1 278.9 1200.3 280.9 1200.5 282.9 1200.7 284.9 1201.0 286.9 1201.2 288.9 1201.5 290.9 1201.8 292.9 1202.1 294.9 1202.4 296.9 1202.7 298.9 1203.0 300.8 1203.3 302.8 1203.6 304.8 1204.0 306.8 1204.3 308.8 1204.6 310.8 1204.9 312.8 1205.3 314.8 1205.6 316.8 1205.9 318.8 1206.2 320.8 1206.5 322.8 1206.8 324.8 1207.1 326.8 1207.4 328.8 1207.7 330.8 1208.0 332.8 1208.2 334.8 1208.5 336.8 1208.8 338.8 1209.0 340.8 1209.3 342.8 1209.5 344.8 1209.8 346.8 1210.0 348.8 1210.3 350.8 1210.5 352.8 1210.7 354.8 1211.0 356.8 1211.2 358.8 1211.4 360.8 1211.6 362.7 1211.8 364.7 1212.0 366.7 1212.2 368.7 1212.4 370.7 1212.6 372.7 1212.8 374.7 1213.0 376.7 1213.2 378.7 1213.4 380.7 1213.5 382.7 1213.7 384.7 1213.9 386.7 1214.1 388.7 1214.2 390.7 1214.4 392.7 1214.6 394.7 1214.7 396.7 1214.9 398.7 1215.0 400.6 1215.2 402.6 1215.3 404.6 1215.5 406.6 1215.6 408.6 1215.7 410.6 1215.9 412.6 1216.0 414.6 1216.2 416.6 1216.3 418.6 1216.4 420.6 1216.5 422.6 1216.7 424.6 1216.8 426.6 1216.9 428.6 1217.0 430.6 1217.2 432.6 1217.3 434.6 1217.4 436.6 1217.5 438.6 1217.6 440.6 1217.7 442.6 1217.9 444.5 1218.0 446.5 1218.1 448.5 1218.2 450.5 1218.3 452.5 1218.4 454.5 1218.5 456.5 1218.6 458.5 1218.7 460.5 1218.8 462.5 1218.9 464.5 1219.0 466.5 1219.1 468.5 1219.2 470.5 1219.3 472.5 1219.4 474.5 1219.5 476.5 1219.6 478.5 1219.7 480.5 1219.8 482.5 1219.9 484.5 1220.0 486.5 1220.1 488.5 1220.2 490.5 1220.3 492.5 1220.4 494.5 1220.5 496.5 1220.5 498.5 1220.6 500.5 1220.7 502.5 1220.8 504.5 1220.9 506.5 1221.0 508.5 1221.0 510.5 1221.1 512.5 1221.2 514.5 1221.3 516.5 1221.4 518.5 1221.4 520.5 1221.5 522.5 1221.6 524.5 1221.7 526.5 1221.7 528.5 1221.8 530.5 1221.9 532.5 1222.0 534.5 1222.0 536.5 1222.1 538.5 1222.2 540.5 1222.2 542.5 1222.3 544.5 1222.4 546.5 1222.4 548.5 1222.5 550.5 1222.6 552.5 1222.6 554.5 1222.7 556.5 1222.8 558.5 1222.8 560.5 1222.9 562.5 1222.9 564.5 1223.0 566.5 1223.1 568.5 1223.1 570.5 1223.2 572.5 1223.2 574.5 1223.3 576.6 1223.3 578.6 1223.4 580.6 1223.5 582.6 1223.5 584.6 1223.6 586.6 1223.6 588.6 1223.7 590.6 1223.7 592.6 1223.8 594.6 1223.8 596.6 1223.9 598.6 1223.9 600.6 1224.0 602.6 1224.0 604.6 1224.1 606.6 1224.1 608.6 1224.1 610.6 1224.2 612.6 1224.2 614.6 1224.3 616.6 1224.3 618.6 1224.4 620.6 1224.4 622.6 1224.4 624.6 1224.5 626.6 1224.5 628.6 1224.6 630.7 1224.6 632.7 1224.6 634.7 1224.7 636.7 1224.7 638.7 1224.8 640.7 1224.8 642.7 1224.8 644.7 1224.9 646.7 1224.9 648.7 1224.9 650.7 1225.0 652.7 1225.0 654.7 1225.0 656.7 1225.1 658.7 1225.1 660.7 1225.1 662.7 1225.2 664.7 1225.2 666.7 1225.2 668.7 1225.3 670.7 1225.3 672.8 1225.3 674.8 1225.4 676.8 1225.4 678.8 1225.4 680.8 1225.4 682.8 1225.5 684.8 1225.5 686.8 1225.5 688.8 1225.6 690.8 1225.6 692.8 1225.6 694.8 1225.6 696.8 1225.7 698.8 1225.7 700.8 1225.7 702.8 1225.7 704.8 1225.8 706.8 1225.8 708.9 1225.8 710.9 1225.8 712.9 1225.9 714.9 1225.9 716.9 1225.9 718.9 1225.9 720.9 1226.0 722.9 1226.0 724.9 1226.0 726.9 1226.0 728.9 1226.0 730.9 1226.1 732.9 1226.1 734.9 1226.1 736.9 1226.1 738.9 1226.1 740.9 1226.2 742.9 1226.2 744.9 1226.2 747.0 1226.2 749.0 1226.2 751.0 1226.3 753.0 1226.3 755.0 1226.3 757.0 1226.3 759.0 1226.3 761.0 1226.4 763.0 1226.4 765.0 1226.4 767.0 1226.4 769.0 1226.4 771.0 1226.4 773.0 1226.5 775.0 1226.5 777.0 1226.5 779.0 1226.5 781.0 1226.5 783.1 1226.6 785.1 1226.6 787.1 1226.6 789.1 1226.6 791.1 1226.6 793.1 1226.6 795.1 1226.7 797.1 1226.7 799.1 1226.7 801.1 1226.7 803.1 1226.7 805.1 1226.7 807.1 1226.8 809.1 1226.8 811.1 1226.8 813.1 1226.8 815.1 1226.8 817.1 1226.8 819.1 1226.9 821.1 1226.9 823.1 1226.9 825.2 1226.9 827.2 1226.9 829.2 1226.9 831.2 1227.0 833.2 1227.0 835.2 1227.0 837.2 1227.0 839.2 1227.0 841.2 1227.0 843.2 1227.1 845.2 1227.1 847.2 1227.1 849.2 1227.1 851.2 1227.1 853.2 1227.2 855.2 1227.2 857.2 1227.2 859.2 1227.2 861.2 1227.2 863.2 1227.3 865.2 1227.3 867.2 1227.3 869.2 1227.3 871.2 1227.3 873.2 1227.3 875.2 1227.4 877.2 1227.4 879.2 1227.4 881.3 1227.4 883.3 1227.5 885.3 1227.5 887.3 1227.5 889.3 1227.5 891.3 1227.5 893.3 1227.6 895.3 1227.6 897.3 1227.6 899.3 1227.6 901.3 1227.7 903.3 1227.7 905.3 1227.7 907.3 1227.7 909.3 1227.7 911.3 1227.8 913.3 1227.8 915.3 1227.8 917.3 1227.8 919.3 1227.9 921.3 1227.9 923.3 1227.9 925.3 1228.0 927.3 1228.0 929.3 1228.0 931.3 1228.0 933.3 1228.1 935.3 1228.1 937.3 1228.1 939.3 1228.1 941.3 1228.2 943.3 1228.2 945.3 1228.2 947.3 1228.3 949.3 1228.3" stroke="#77AC30" stroke-width="5.2" fill="none" stroke-linejoin="round" stroke-linecap="butt"/>
<path d="M123.5 1843.8 123.5 1841.8 123.5 1839.8 123.5 1837.8 123.4 1835.8 123.4 1833.8 123.4 1831.8 123.4 1829.8 123.4 1827.8 123.4 1825.8 123.4 1823.8 123.4 1821.8 123.4 1819.7 123.4 1817.7 123.4 1815.7 123.4 1813.7 123.4 1811.7 123.4 1809.7 123.4 1807.7 123.4 1805.7 123.4 1803.7 123.4 1801.7 123.4 1799.7 123.4 1797.7 123.4 1795.7 123.4 1793.7 123.4 1791.7 123.4 1789.7 123.4 1787.7 123.4 1785.6 123.4 1783.6 123.4 1781.6 123.4 1779.6 123.4 1777.6 123.4 1775.6 123.4 1773.6 123.5 1771.6 123.5 1769.6 123.5 1767.6 123.5 1765.6 123.5 1763.6 123.5 1761.6 123.5 1759.6 123.5 1757.6 123.6 1755.5 123.6 1753.5 123.6 1751.5 123.6 1749.5 123.6 1747.5 123.7 1745.5 123.7 1743.5 123.7 1741.5 123.7 1739.5 123.7 1737.5 123.8 1735.5 123.8 1733.5 123.8 1731.5 123.8 1729.4 123.9 1727.4 123.9 1725.4 123.9 1723.4 123.9 1721.4 124.0 1719.4 124.0 1717.4 124.0 1715.4 124.0 1713.4 124.1 1711.4 124.1 1709.4 124.1 1707.4 124.2 1705.4 124.2 1703.3 124.2 1701.3 124.3 1699.3 124.3 1697.3 124.3 1695.3 124.4 1693.3 124.4 1691.3 124.4 1689.3 124.5 1687.3 124.5 1685.3 124.6 1683.3 124.6 1681.3 124.6 1679.2 124.7 1677.2 124.7 1675.2 124.8 1673.2 124.8 1671.2 124.8 1669.2 124.9 1667.2 124.9 1665.2 125.0 1663.2 125.0 1661.2 125.1 1659.2 125.1 1657.2 125.2 1655.2 125.2 1653.1 125.3 1651.1 125.3 1649.1 125.3 1647.1 125.4 1645.1 125.4 1643.1 125.5 1641.1 125.5 1639.1 125.6 1637.1 125.7 1635.1 125.7 1633.1 125.8 1631.1 125.8 1629.0 125.9 1627.0 125.9 1625.0 126.0 1623.0 126.0 1621.0 126.1 1619.0 126.1 1617.0 126.2 1615.0 126.3 1613.0 126.3 1611.0 126.4 1609.0 126.4 1607.0 126.5 1604.9 126.6 1602.9 126.6 1600.9 126.7 1598.9 126.7 1596.9 126.8 1594.9 126.9 1592.9 126.9 1590.9 127.0 1588.9 127.1 1586.9 127.1 1584.9 127.2 1582.9 127.3 1580.9 127.3 1578.9 127.4 1576.8 127.5 1574.8 127.5 1572.8 127.6 1570.8 127.7 1568.8 127.7 1566.8 127.8 1564.8 127.9 1562.8 127.9 1560.8 128.0 1558.8 128.1 1556.8 128.2 1554.8 128.2 1552.8 128.3 1550.8 128.4 1548.7 128.5 1546.7 128.5 1544.7 128.6 1542.7 128.7 1540.7 128.8 1538.7 128.8 1536.7 128.9 1534.7 129.0 1532.7 129.1 1530.7 129.2 1528.7 129.2 1526.7 129.3 1524.7 129.4 1522.7 129.5 1520.7 129.6 1518.7 129.6 1516.7 129.7 1514.7 129.8 1512.6 129.9 1510.6 130.0 1508.6 130.1 1506.6 130.1 1504.6 130.2 1502.6 130.3 1500.6 130.4 1498.6 130.5 1496.6 130.6 1494.6 130.7 1492.6 130.7 1490.6 130.8 1488.6 130.9 1486.6 131.0 1484.6 131.1 1482.6 131.2 1480.6 131.3 1478.6 131.4 1476.6 131.5 1474.6 131.5 1472.6 131.6 1470.6 131.7 1468.6 131.8 1466.6 131.9 1464.6 132.0 1462.5 132.1 1460.5 132.2 1458.5 132.3 1456.5 132.4 1454.5 132.5 1452.5 132.6 1450.5 132.7 1448.5 132.8 1446.5 132.9 1444.5 133.0 1442.5 133.1 1440.5 133.2 1438.5 133.3 1436.5 133.3 1434.5 133.4 1432.5 133.5 1430.5 133.6 1428.5 133.7 1426.5 133.8 1424.5 133.9 1422.5 134.0 1420.5 134.2 1418.5 134.3 1416.5 134.4 1414.5 134.5 1412.5 134.6 1410.5 134.7 1408.5 134.8 1406.5 134.9 1404.5 135.0 1402.5 135.1 1400.5 135.2 1398.5 135.3 1396.5 135.4 1394.5 135.5 1392.5 135.7 1390.5 135.8 1388.5 135.9 1386.5 136.0 1384.5 136.1 1382.5 136.3 1380.5 136.4 1378.5 136.5 1376.5 136.7 1374.5 136.8 1372.5 136.9 1370.5 137.1 1368.5 137.2 1366.5 137.4 1364.5 137.5 1362.5 137.7 1360.5 137.9 1358.5 138.0 1356.5 138.2 1354.5 138.4 1352.5 138.5 1350.5 138.7 1348.5 138.9 1346.5 139.1 1344.5 139.3 1342.5 139.5 1340.5 139.7 1338.5 139.9 1336.5 140.1 1334.5 140.3 1332.5 140.5 1330.5 140.7 1328.5 140.9 1326.5 141.2 1324.5 141.4 1322.5 141.7 1320.5 141.9 1318.5 142.2 1316.5 142.4 1314.5 142.7 1312.4 143.0 1310.4 143.3 1308.4 143.5 1306.4 143.8 1304.4 144.1 1302.4 144.5 1300.4 144.8 1298.4 145.1 1296.4 145.5 1294.4 145.9 1292.4 146.3 1290.5 146.7 1288.5 147.1 1286.5 147.6 1284.6 148.1 1282.6 148.6 1280.7 149.2 1278.7 149.8 1276.8 150.4 1274.9 151.0 1273.0 151.7 1271.2 152.5 1269.3 153.2 1267.4 154.0 1265.6 154.9 1263.8 155.8 1262.0 156.7 1260.2 157.7 1258.5 158.8 1256.8 159.9 1255.1 161.1 1253.6 162.3 1252.0 163.6 1250.6 165.0 1249.3 166.5 1248.1 168.1 1247.0 169.8 1246.1 171.5 1245.3 173.4 1244.7 175.3 1244.1 177.3 1243.7 179.4 1243.3 181.4 1243.0 183.4 1242.7 185.5 1242.5 187.5 1242.2 189.6 1242.0 191.6 1241.8 193.6 1241.5 195.6 1241.3 197.7 1241.2 199.7 1241.0 201.7 1240.8 203.7 1240.7 205.7 1240.5 207.7 1240.4 209.7 1240.2 211.7 1240.1 213.7 1240.0 215.7 1239.9 217.7 1239.8 219.7 1239.7 221.7 1239.6 223.7 1239.5 225.7 1239.4 227.7 1239.3 229.7 1239.1 231.7 1239.0 233.7 1238.9 235.7 1238.8 237.7 1238.7 239.7 1238.6 241.7 1238.5 243.7 1238.3 245.7 1238.2 247.7 1238.1 249.7 1238.0 251.7 1237.8 253.7 1237.7 255.7 1237.6 257.7 1237.5 259.7 1237.3 261.7 1237.2 263.7 1237.0 265.7 1236.9 267.7 1236.8 269.7 1236.6 271.7 1236.5 273.7 1236.4 275.7 1236.2 277.7 1236.1 279.7 1236.0 281.7 1235.8 283.7 1235.7 285.7 1235.6 287.7 1235.4 289.7 1235.3 291.7 1235.2 293.7 1235.0 295.7 1234.9 297.7 1234.8 299.7 1234.7 301.7 1234.5 303.8 1234.4 305.8 1234.3 307.8 1234.2 309.8 1234.1 311.8 1233.9 313.8 1233.8 315.8 1233.7 317.8 1233.6 319.8 1233.5 321.8 1233.4 323.8 1233.3 325.8 1233.3 327.8 1233.2 329.8 1233.1 331.8 1233.0 333.8 1232.9 335.8 1232.9 337.9 1232.8 339.9 1232.7 341.9 1232.7 343.9 1232.6 345.9 1232.6 347.9 1232.6 349.9 1232.5 351.9 1232.5 353.9 1232.5 355.9 1232.5 357.9 1232.4 359.9 1232.4 361.9 1232.4 363.9 1232.4 365.9 1232.5 368.0 1232.5 370.0 1232.5 372.0 1232.5 374.0 1232.6 376.0 1232.6 378.0 1232.7 380.0 1232.7 382.0 1232.8" stroke="#4DBEEE" stroke-width="5.2" fill="none" stroke-linejoin="round" stroke-linecap="butt"/>
<text x="121.60" y="1885.40" font-size="28.5" text-anchor="middle">0</text>
<text x="255.63" y="1885.40" font-size="28.5" text-anchor="middle">0.2</text>
<text x="388.46" y="1885.40" font-size="28.5" text-anchor="middle">0.4</text>
<text x="521.29" y="1885.40" font-size="28.5" text-anchor="middle">0.6</text>
<text x="654.12" y="1885.40" font-size="28.5" text-anchor="middle">0.8</text>
<text x="786.95" y="1885.40" font-size="28.5" text-anchor="middle">1</text>
<text x="919.78" y="1885.40" font-size="28.5" text-anchor="middle">1.2</text>
<text x="1052.80" y="1885.40" font-size="28.5" text-anchor="middle">1.4</text>
<text x="110.20" y="1855.20" font-size="28.5" text-anchor="end">0</text>
<text x="110.20" y="1733.10" font-size="28.5" text-anchor="end">0.2</text>
<text x="110.20" y="1611.00" font-size="28.5" text-anchor="end">0.4</text>
<text x="110.20" y="1488.90" font-size="28.5" text-anchor="end">0.6</text>
<text x="110.20" y="1366.80" font-size="28.5" text-anchor="end">0.8</text>
<text x="110.20" y="1244.70" font-size="28.5" text-anchor="end">1</text>
<text x="110.20" y="1122.60" font-size="28.5" text-anchor="end">1.2</text>
<text x="587.35" y="1928.90" font-size="31.4" text-anchor="middle">Time</text>
<text transform="translate(53.60 1477.50) rotate(-90)" font-size="31.4" text-anchor="middle">DC Motor Speed</text>
<rect x="804.70" y="1257.10" width="227.80" height="215.90" fill="#fff" stroke="#262626" stroke-width="1.4"/>
<path d="M813.70 1276.10H898.70" stroke="#0072BD" stroke-width="5.2"/>
<text x="905.50" y="1287.10" font-size="25.6">MEASSA</text>
<path d="M813.70 1311.70H898.70" stroke="#D95319" stroke-width="5.2"/>
<text x="905.50" y="1322.70" font-size="25.6">mJS</text>
<path d="M813.70 1347.30H898.70" stroke="#EDB120" stroke-width="5.2"/>
<text x="905.50" y="1358.30" font-size="25.6">PSO-ACO</text>
<path d="M813.70 1382.90H898.70" stroke="#7E2F8E" stroke-width="5.2"/>
<text x="905.50" y="1393.90" font-size="25.6">OBL-HG</text>
<path d="M813.70 1418.50H898.70" stroke="#77AC30" stroke-width="5.2"/>
<text x="905.50" y="1429.50" font-size="25.6">CMA-ES</text>
<path d="M813.70 1454.10H898.70" stroke="#4DBEEE" stroke-width="5.2"/>
<text x="905.50" y="1465.10" font-size="25.6">ASSA</text>
<text x="566.5" y="1024.7" class="cap" text-anchor="middle">(a)</text>
<text x="566.5" y="2000" class="cap" text-anchor="middle">(b)</text>
</svg></body></html>
